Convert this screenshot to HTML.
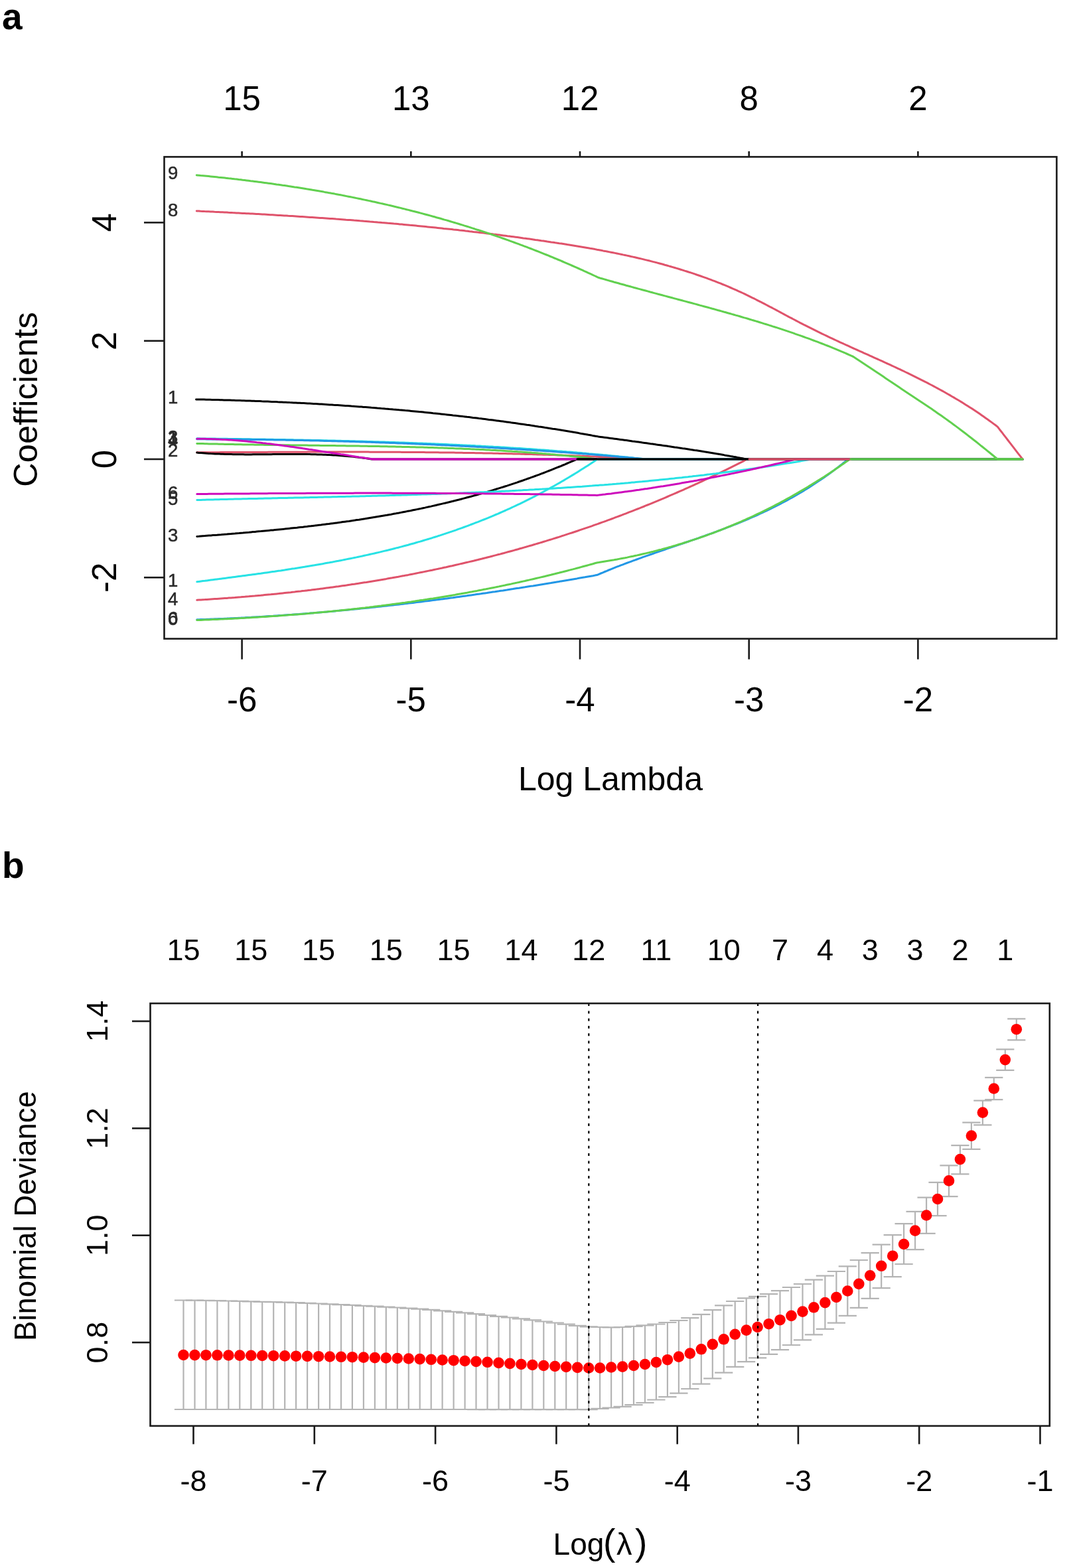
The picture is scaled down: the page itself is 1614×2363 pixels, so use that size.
<!DOCTYPE html><html><head><meta charset="utf-8"><title>LASSO regression plots</title>
<style>html,body{margin:0;padding:0;background:#fff;}svg{display:block;}text{font-family:"Liberation Sans", Arial, Helvetica, sans-serif;font-variant-ligatures:none;}</style></head><body>
<svg width="1614" height="2363" viewBox="0 0 1614 2363">
<rect x="0" y="0" width="1614" height="2363" fill="#fff"/>
<text x="3" y="44.3" font-size="55" font-weight="bold" fill="#000">a</text>
<defs><clipPath id="clipA"><rect x="247.5" y="236.4" width="1344.9" height="726.2"/></clipPath>
<clipPath id="clipB"><rect x="226.5" y="1512.1" width="1355.3" height="636.8"/></clipPath></defs>
<g clip-path="url(#clipA)" fill="none" stroke-width="3.0" stroke-linejoin="round" stroke-linecap="round">
<path d="M296.8 681.8 L299.8 681.8 L302.8 681.8 L305.8 681.8 L308.8 681.8 L311.8 681.7 L314.8 681.7 L317.8 681.7 L320.8 681.7 L323.8 681.7 L326.8 681.7 L329.8 681.7 L332.8 681.6 L335.8 681.6 L338.8 681.6 L341.8 681.6 L344.8 681.6 L347.8 681.6 L350.8 681.6 L353.8 681.6 L356.8 681.5 L359.8 681.5 L362.8 681.5 L365.8 681.5 L368.8 681.5 L371.8 681.5 L374.8 681.5 L377.8 681.4 L380.8 681.4 L383.8 681.4 L386.8 681.4 L389.8 681.4 L392.8 681.4 L395.8 681.4 L398.8 681.4 L401.8 681.4 L404.8 681.3 L407.8 681.3 L410.8 681.3 L413.8 681.3 L416.8 681.3 L419.8 681.3 L422.8 681.3 L425.8 681.3 L428.8 681.3 L431.8 681.2 L434.8 681.2 L437.8 681.2 L440.8 681.2 L443.8 681.2 L446.8 681.2 L449.8 681.2 L452.8 681.2 L455.8 681.2 L458.8 681.2 L461.8 681.2 L464.8 681.1 L467.9 681.1 L470.9 681.1 L473.9 681.1 L476.9 681.1 L479.9 681.1 L482.9 681.1 L485.9 681.1 L488.9 681.1 L491.9 681.1 L494.9 681.1 L497.9 681.1 L500.9 681.1 L503.9 681.1 L506.9 681.1 L509.9 681.1 L512.9 681.1 L515.9 681.1 L518.9 681.1 L521.9 681.1 L524.9 681.1 L527.9 681.1 L530.9 681.1 L533.9 681.1 L536.9 681.1 L539.9 681.1 L542.9 681.1 L545.9 681.1 L548.9 681.1 L551.9 681.1 L554.9 681.1 L557.9 681.2 L560.9 681.2 L563.9 681.2 L566.9 681.2 L569.9 681.2 L572.9 681.2 L575.9 681.2 L578.9 681.2 L581.9 681.2 L584.9 681.2 L587.9 681.3 L590.9 681.3 L593.9 681.3 L596.9 681.3 L599.9 681.3 L602.9 681.3 L605.9 681.4 L608.9 681.4 L611.9 681.4 L614.9 681.4 L617.9 681.4 L620.9 681.5 L623.9 681.5 L626.9 681.5 L629.9 681.5 L632.9 681.6 L635.9 681.6 L638.9 681.6 L641.9 681.7 L644.9 681.7 L647.9 681.7 L650.9 681.7 L653.9 681.8 L656.9 681.8 L659.9 681.8 L662.9 681.9 L665.9 681.9 L668.9 681.9 L671.9 682.0 L674.9 682.0 L677.9 682.1 L680.9 682.1 L683.9 682.1 L686.9 682.2 L689.9 682.2 L692.9 682.3 L695.9 682.3 L698.9 682.4 L701.9 682.4 L704.9 682.5 L707.9 682.5 L710.9 682.6 L713.9 682.6 L716.9 682.7 L719.9 682.7 L722.9 682.8 L725.9 682.8 L728.9 682.9 L731.9 682.9 L734.9 683.0 L737.9 683.1 L740.9 683.1 L743.9 683.2 L746.9 683.3 L749.9 683.3 L752.9 683.4 L755.9 683.5 L758.9 683.5 L761.9 683.6 L764.9 683.7 L767.9 683.7 L770.9 683.8 L773.9 683.9 L776.9 684.0 L779.9 684.0 L782.9 684.1 L785.9 684.2 L788.9 684.3 L791.9 684.4 L794.9 684.4 L797.9 684.5 L800.9 684.6 L804.0 684.7 L807.0 684.8 L810.0 684.9 L813.0 685.0 L816.0 685.1 L819.0 685.2 L822.0 685.2 L825.0 685.3 L828.0 685.4 L831.0 685.5 L834.0 685.6 L837.0 685.7 L840.0 685.9 L843.0 686.0 L846.0 686.1 L849.0 686.2 L852.0 686.3 L855.0 686.4 L858.0 686.5 L861.0 686.6 L864.0 686.7 L867.0 686.9 L870.0 687.0 L873.0 687.1 L876.0 687.2 L879.0 687.3 L882.0 687.5 L885.0 687.6 L888.0 687.7 L891.0 687.9 L894.0 688.0 L897.0 688.1 L900.0 688.3 L903.0 688.4 L906.0 688.5 L909.0 688.7 L912.0 688.8 L915.0 688.9 L918.0 689.1 L921.0 689.2 L924.0 689.4 L927.0 689.5 L930.0 689.7 L933.0 689.8 L936.0 690.0 L939.0 690.2 L942.0 690.3 L945.0 690.5 L948.0 690.6 L951.0 690.8 L954.0 691.0 L957.0 691.1 L960.0 691.3 L963.0 691.5 L966.0 691.6 L969.0 691.8 L972.0 692.0 L975.0 692.0 L978.0 692.0 L981.0 692.0 L984.0 692.0 L987.1 692.0 L990.1 692.0 L993.1 692.0 L996.1 692.0 L999.1 692.0 L1002.1 692.0 L1005.1 692.0 L1008.1 692.0 L1011.1 692.0 L1014.1 692.0 L1017.2 692.0 L1020.2 692.0 L1023.2 692.0 L1026.2 692.0 L1029.2 692.0 L1032.2 692.0 L1035.2 692.0 L1038.2 692.0 L1041.2 692.0 L1044.3 692.0 L1047.3 692.0 L1050.3 692.0 L1053.3 692.0 L1056.3 692.0 L1059.3 692.0 L1062.3 692.0 L1065.3 692.0 L1068.3 692.0 L1071.3 692.0 L1074.4 692.0 L1077.4 692.0 L1080.4 692.0 L1083.4 692.0 L1086.4 692.0 L1089.4 692.0 L1092.4 692.0 L1095.4 692.0 L1098.4 692.0 L1101.5 692.0 L1104.5 692.0 L1107.5 692.0 L1110.5 692.0 L1113.5 692.0 L1116.5 692.0 L1119.5 692.0 L1122.5 692.0 L1125.5 692.0 L1128.6 692.0 L1131.6 692.0 L1134.6 692.0 L1137.6 692.0 L1140.6 692.0 L1143.6 692.0 L1146.6 692.0 L1149.6 692.0 L1152.6 692.0 L1155.6 692.0 L1158.7 692.0 L1161.7 692.0 L1164.7 692.0 L1167.7 692.0 L1170.7 692.0 L1173.7 692.0 L1176.7 692.0 L1179.7 692.0 L1182.7 692.0 L1185.8 692.0 L1188.8 692.0 L1191.8 692.0 L1194.8 692.0 L1197.8 692.0 L1200.8 692.0 L1203.8 692.0 L1206.8 692.0 L1209.8 692.0 L1212.8 692.0 L1215.9 692.0 L1218.9 692.0 L1221.9 692.0 L1224.9 692.0 L1227.9 692.0 L1230.9 692.0 L1233.9 692.0 L1236.9 692.0 L1239.9 692.0 L1243.0 692.0 L1246.0 692.0 L1249.0 692.0 L1252.0 692.0 L1255.0 692.0 L1258.0 692.0 L1261.0 692.0 L1264.0 692.0 L1267.0 692.0 L1270.0 692.0 L1273.1 692.0 L1276.1 692.0 L1279.1 692.0 L1282.1 692.0 L1285.1 692.0 L1288.1 692.0 L1291.1 692.0 L1294.1 692.0 L1297.1 692.0 L1300.2 692.0 L1303.2 692.0 L1306.2 692.0 L1309.2 692.0 L1312.2 692.0 L1315.2 692.0 L1318.2 692.0 L1321.2 692.0 L1324.2 692.0 L1327.2 692.0 L1330.3 692.0 L1333.3 692.0 L1336.3 692.0 L1339.3 692.0 L1342.3 692.0 L1345.3 692.0 L1348.3 692.0 L1351.3 692.0 L1354.3 692.0 L1357.4 692.0 L1360.4 692.0 L1363.4 692.0 L1366.4 692.0 L1369.4 692.0 L1372.4 692.0 L1375.4 692.0 L1378.4 692.0 L1381.4 692.0 L1384.4 692.0 L1387.5 692.0 L1390.5 692.0 L1393.5 692.0 L1396.5 692.0 L1399.5 692.0 L1402.5 692.0 L1405.5 692.0 L1408.5 692.0 L1411.5 692.0 L1414.6 692.0 L1417.6 692.0 L1420.6 692.0 L1423.6 692.0 L1426.6 692.0 L1429.6 692.0 L1432.6 692.0 L1435.6 692.0 L1438.6 692.0 L1441.7 692.0 L1444.7 692.0 L1447.7 692.0 L1450.7 692.0 L1453.7 692.0 L1456.7 692.0 L1459.7 692.0 L1462.7 692.0 L1465.7 692.0 L1468.7 692.0 L1471.8 692.0 L1474.8 692.0 L1477.8 692.0 L1480.8 692.0 L1483.8 692.0 L1486.8 692.0 L1489.8 692.0 L1492.8 692.0 L1495.8 692.0 L1498.9 692.0 L1501.9 692.0 L1504.9 692.0 L1507.9 692.0 L1510.9 692.0 L1513.9 692.0 L1516.9 692.0 L1519.9 692.0 L1522.9 692.0 L1525.9 692.0 L1529.0 692.0 L1532.0 692.0 L1535.0 692.0 L1538.0 692.0 L1541.0 692.0" stroke="#DF536B"/>
<path d="M296.8 660.8 L299.8 660.8 L302.8 660.9 L305.8 660.9 L308.8 660.9 L311.8 661.0 L314.8 661.0 L317.8 661.0 L320.8 661.1 L323.8 661.1 L326.8 661.2 L329.8 661.2 L332.8 661.2 L335.8 661.3 L338.8 661.3 L341.8 661.3 L344.8 661.4 L347.8 661.4 L350.8 661.5 L353.8 661.5 L356.8 661.5 L359.8 661.6 L362.8 661.6 L365.8 661.7 L368.8 661.7 L371.8 661.7 L374.8 661.8 L377.8 661.8 L380.8 661.9 L383.8 661.9 L386.8 662.0 L389.8 662.0 L392.8 662.0 L395.8 662.1 L398.8 662.1 L401.8 662.2 L404.8 662.2 L407.8 662.3 L410.8 662.3 L413.8 662.4 L416.8 662.4 L419.8 662.5 L422.8 662.5 L425.8 662.6 L428.8 662.6 L431.8 662.7 L434.8 662.7 L437.8 662.8 L440.8 662.8 L443.8 662.9 L446.8 662.9 L449.8 663.0 L452.8 663.0 L455.8 663.1 L458.8 663.2 L461.8 663.2 L464.8 663.3 L467.9 663.3 L470.9 663.4 L473.9 663.4 L476.9 663.5 L479.9 663.6 L482.9 663.6 L485.9 663.7 L488.9 663.8 L491.9 663.8 L494.9 663.9 L497.9 664.0 L500.9 664.0 L503.9 664.1 L506.9 664.2 L509.9 664.2 L512.9 664.3 L515.9 664.4 L518.9 664.5 L521.9 664.5 L524.9 664.6 L527.9 664.7 L530.9 664.8 L533.9 664.8 L536.9 664.9 L539.9 665.0 L542.9 665.1 L545.9 665.1 L548.9 665.2 L551.9 665.3 L554.9 665.4 L557.9 665.5 L560.9 665.6 L563.9 665.7 L566.9 665.7 L569.9 665.8 L572.9 665.9 L575.9 666.0 L578.9 666.1 L581.9 666.2 L584.9 666.3 L587.9 666.4 L590.9 666.5 L593.9 666.6 L596.9 666.7 L599.9 666.8 L602.9 666.9 L605.9 667.0 L608.9 667.1 L611.9 667.2 L614.9 667.3 L617.9 667.4 L620.9 667.5 L623.9 667.7 L626.9 667.8 L629.9 667.9 L632.9 668.0 L635.9 668.1 L638.9 668.2 L641.9 668.3 L644.9 668.5 L647.9 668.6 L650.9 668.7 L653.9 668.8 L656.9 669.0 L659.9 669.1 L662.9 669.2 L665.9 669.3 L668.9 669.5 L671.9 669.6 L674.9 669.7 L677.9 669.9 L680.9 670.0 L683.9 670.2 L686.9 670.3 L689.9 670.4 L692.9 670.6 L695.9 670.7 L698.9 670.9 L701.9 671.0 L704.9 671.2 L707.9 671.3 L710.9 671.5 L713.9 671.6 L716.9 671.8 L719.9 671.9 L722.9 672.1 L725.9 672.3 L728.9 672.4 L731.9 672.6 L734.9 672.7 L737.9 672.9 L740.9 673.1 L743.9 673.3 L746.9 673.4 L749.9 673.6 L752.9 673.8 L755.9 674.0 L758.9 674.1 L761.9 674.3 L764.9 674.5 L767.9 674.7 L770.9 674.9 L773.9 675.1 L776.9 675.2 L779.9 675.4 L782.9 675.6 L785.9 675.8 L788.9 676.0 L791.9 676.2 L794.9 676.4 L797.9 676.6 L800.9 676.8 L804.0 677.0 L807.0 677.2 L810.0 677.5 L813.0 677.7 L816.0 677.9 L819.0 678.1 L822.0 678.3 L825.0 678.5 L828.0 678.8 L831.0 679.0 L834.0 679.2 L837.0 679.4 L840.0 679.7 L843.0 679.9 L846.0 680.1 L849.0 680.4 L852.0 680.6 L855.0 680.9 L858.0 681.1 L861.0 681.3 L864.0 681.6 L867.0 681.8 L870.0 682.1 L873.0 682.3 L876.0 682.6 L879.0 682.9 L882.0 683.1 L885.0 683.4 L888.0 683.7 L891.0 683.9 L894.0 684.2 L897.0 684.5 L900.0 684.7 L903.0 685.0 L906.0 685.3 L909.0 685.6 L912.0 685.8 L915.0 686.1 L918.0 686.4 L921.0 686.7 L924.0 687.0 L927.0 687.3 L930.0 687.6 L933.0 687.9 L936.0 688.2 L939.0 688.5 L942.0 688.8 L945.0 689.1 L948.0 689.4 L951.0 689.7 L954.0 690.1 L957.0 690.4 L960.0 690.7 L963.0 691.0 L966.0 691.3 L969.0 691.7 L972.0 692.0 L975.0 692.0 L978.0 692.0 L981.0 692.0 L984.0 692.0 L987.1 692.0 L990.1 692.0 L993.1 692.0 L996.1 692.0 L999.1 692.0 L1002.1 692.0 L1005.1 692.0 L1008.1 692.0 L1011.1 692.0 L1014.1 692.0 L1017.2 692.0 L1020.2 692.0 L1023.2 692.0 L1026.2 692.0 L1029.2 692.0 L1032.2 692.0 L1035.2 692.0 L1038.2 692.0 L1041.2 692.0 L1044.3 692.0 L1047.3 692.0 L1050.3 692.0 L1053.3 692.0 L1056.3 692.0 L1059.3 692.0 L1062.3 692.0 L1065.3 692.0 L1068.3 692.0 L1071.3 692.0 L1074.4 692.0 L1077.4 692.0 L1080.4 692.0 L1083.4 692.0 L1086.4 692.0 L1089.4 692.0 L1092.4 692.0 L1095.4 692.0 L1098.4 692.0 L1101.5 692.0 L1104.5 692.0 L1107.5 692.0 L1110.5 692.0 L1113.5 692.0 L1116.5 692.0 L1119.5 692.0 L1122.5 692.0 L1125.5 692.0 L1128.6 692.0 L1131.6 692.0 L1134.6 692.0 L1137.6 692.0 L1140.6 692.0 L1143.6 692.0 L1146.6 692.0 L1149.6 692.0 L1152.6 692.0 L1155.6 692.0 L1158.7 692.0 L1161.7 692.0 L1164.7 692.0 L1167.7 692.0 L1170.7 692.0 L1173.7 692.0 L1176.7 692.0 L1179.7 692.0 L1182.7 692.0 L1185.8 692.0 L1188.8 692.0 L1191.8 692.0 L1194.8 692.0 L1197.8 692.0 L1200.8 692.0 L1203.8 692.0 L1206.8 692.0 L1209.8 692.0 L1212.8 692.0 L1215.9 692.0 L1218.9 692.0 L1221.9 692.0 L1224.9 692.0 L1227.9 692.0 L1230.9 692.0 L1233.9 692.0 L1236.9 692.0 L1239.9 692.0 L1243.0 692.0 L1246.0 692.0 L1249.0 692.0 L1252.0 692.0 L1255.0 692.0 L1258.0 692.0 L1261.0 692.0 L1264.0 692.0 L1267.0 692.0 L1270.0 692.0 L1273.1 692.0 L1276.1 692.0 L1279.1 692.0 L1282.1 692.0 L1285.1 692.0 L1288.1 692.0 L1291.1 692.0 L1294.1 692.0 L1297.1 692.0 L1300.2 692.0 L1303.2 692.0 L1306.2 692.0 L1309.2 692.0 L1312.2 692.0 L1315.2 692.0 L1318.2 692.0 L1321.2 692.0 L1324.2 692.0 L1327.2 692.0 L1330.3 692.0 L1333.3 692.0 L1336.3 692.0 L1339.3 692.0 L1342.3 692.0 L1345.3 692.0 L1348.3 692.0 L1351.3 692.0 L1354.3 692.0 L1357.4 692.0 L1360.4 692.0 L1363.4 692.0 L1366.4 692.0 L1369.4 692.0 L1372.4 692.0 L1375.4 692.0 L1378.4 692.0 L1381.4 692.0 L1384.4 692.0 L1387.5 692.0 L1390.5 692.0 L1393.5 692.0 L1396.5 692.0 L1399.5 692.0 L1402.5 692.0 L1405.5 692.0 L1408.5 692.0 L1411.5 692.0 L1414.6 692.0 L1417.6 692.0 L1420.6 692.0 L1423.6 692.0 L1426.6 692.0 L1429.6 692.0 L1432.6 692.0 L1435.6 692.0 L1438.6 692.0 L1441.7 692.0 L1444.7 692.0 L1447.7 692.0 L1450.7 692.0 L1453.7 692.0 L1456.7 692.0 L1459.7 692.0 L1462.7 692.0 L1465.7 692.0 L1468.7 692.0 L1471.8 692.0 L1474.8 692.0 L1477.8 692.0 L1480.8 692.0 L1483.8 692.0 L1486.8 692.0 L1489.8 692.0 L1492.8 692.0 L1495.8 692.0 L1498.9 692.0 L1501.9 692.0 L1504.9 692.0 L1507.9 692.0 L1510.9 692.0 L1513.9 692.0 L1516.9 692.0 L1519.9 692.0 L1522.9 692.0 L1525.9 692.0 L1529.0 692.0 L1532.0 692.0 L1535.0 692.0 L1538.0 692.0 L1541.0 692.0" stroke="#28E2E5"/>
<path d="M296.8 661.8 L299.8 661.8 L302.8 661.8 L305.8 661.8 L308.8 661.8 L311.8 661.9 L314.8 661.9 L317.8 661.9 L320.8 661.9 L323.8 661.9 L326.8 661.9 L329.8 661.9 L332.8 662.0 L335.8 662.0 L338.8 662.0 L341.8 662.0 L344.8 662.0 L347.8 662.1 L350.8 662.1 L353.8 662.1 L356.8 662.1 L359.8 662.2 L362.8 662.2 L365.8 662.2 L368.8 662.3 L371.8 662.3 L374.8 662.3 L377.8 662.4 L380.8 662.4 L383.8 662.4 L386.8 662.5 L389.8 662.5 L392.8 662.6 L395.8 662.6 L398.8 662.6 L401.8 662.7 L404.8 662.7 L407.8 662.8 L410.8 662.8 L413.8 662.9 L416.8 662.9 L419.8 663.0 L422.8 663.0 L425.8 663.1 L428.8 663.1 L431.8 663.2 L434.8 663.2 L437.8 663.3 L440.8 663.3 L443.8 663.4 L446.8 663.4 L449.8 663.5 L452.8 663.6 L455.8 663.6 L458.8 663.7 L461.8 663.7 L464.8 663.8 L467.9 663.9 L470.9 663.9 L473.9 664.0 L476.9 664.1 L479.9 664.1 L482.9 664.2 L485.9 664.3 L488.9 664.4 L491.9 664.4 L494.9 664.5 L497.9 664.6 L500.9 664.7 L503.9 664.7 L506.9 664.8 L509.9 664.9 L512.9 665.0 L515.9 665.1 L518.9 665.2 L521.9 665.2 L524.9 665.3 L527.9 665.4 L530.9 665.5 L533.9 665.6 L536.9 665.7 L539.9 665.8 L542.9 665.9 L545.9 666.0 L548.9 666.1 L551.9 666.2 L554.9 666.2 L557.9 666.3 L560.9 666.4 L563.9 666.5 L566.9 666.7 L569.9 666.8 L572.9 666.9 L575.9 667.0 L578.9 667.1 L581.9 667.2 L584.9 667.3 L587.9 667.4 L590.9 667.5 L593.9 667.6 L596.9 667.7 L599.9 667.9 L602.9 668.0 L605.9 668.1 L608.9 668.2 L611.9 668.3 L614.9 668.4 L617.9 668.6 L620.9 668.7 L623.9 668.8 L626.9 668.9 L629.9 669.1 L632.9 669.2 L635.9 669.3 L638.9 669.5 L641.9 669.6 L644.9 669.7 L647.9 669.8 L650.9 670.0 L653.9 670.1 L656.9 670.3 L659.9 670.4 L662.9 670.5 L665.9 670.7 L668.9 670.8 L671.9 671.0 L674.9 671.1 L677.9 671.3 L680.9 671.4 L683.9 671.5 L686.9 671.7 L689.9 671.8 L692.9 672.0 L695.9 672.2 L698.9 672.3 L701.9 672.5 L704.9 672.6 L707.9 672.8 L710.9 672.9 L713.9 673.1 L716.9 673.3 L719.9 673.4 L722.9 673.6 L725.9 673.8 L728.9 673.9 L731.9 674.1 L734.9 674.3 L737.9 674.4 L740.9 674.6 L743.9 674.8 L746.9 674.9 L749.9 675.1 L752.9 675.3 L755.9 675.5 L758.9 675.7 L761.9 675.8 L764.9 676.0 L767.9 676.2 L770.9 676.4 L773.9 676.6 L776.9 676.8 L779.9 676.9 L782.9 677.1 L785.9 677.3 L788.9 677.5 L791.9 677.7 L794.9 677.9 L797.9 678.1 L800.9 678.3 L803.9 678.5 L807.0 678.7 L810.0 678.9 L813.0 679.1 L816.0 679.3 L819.0 679.5 L822.0 679.7 L825.0 679.9 L828.0 680.1 L831.0 680.3 L834.0 680.5 L837.0 680.8 L840.0 681.0 L843.0 681.2 L846.0 681.4 L849.0 681.6 L852.0 681.8 L855.0 682.1 L858.0 682.3 L861.0 682.5 L864.0 682.7 L867.0 683.0 L870.0 683.2 L873.0 683.4 L876.0 683.6 L879.0 683.9 L882.0 684.1 L885.0 684.3 L888.0 684.6 L891.0 684.8 L894.0 685.1 L897.0 685.3 L900.0 685.5 L903.0 685.8 L906.0 686.0 L909.0 686.3 L912.0 686.5 L915.0 686.8 L918.0 687.0 L921.0 687.3 L924.0 687.5 L927.0 687.8 L930.0 688.0 L933.0 688.3 L936.0 688.5 L939.0 688.8 L942.0 689.1 L945.0 689.3 L948.0 689.6 L951.0 689.8 L954.0 690.1 L957.0 690.4 L960.0 690.6 L963.0 690.9 L966.0 691.2 L969.0 691.5 L972.0 691.7 L975.0 692.0 L978.0 692.0 L981.0 692.0 L984.0 692.0 L987.0 692.0 L990.1 692.0 L993.1 692.0 L996.1 692.0 L999.1 692.0 L1002.1 692.0 L1005.1 692.0 L1008.1 692.0 L1011.1 692.0 L1014.1 692.0 L1017.1 692.0 L1020.2 692.0 L1023.2 692.0 L1026.2 692.0 L1029.2 692.0 L1032.2 692.0 L1035.2 692.0 L1038.2 692.0 L1041.2 692.0 L1044.2 692.0 L1047.3 692.0 L1050.3 692.0 L1053.3 692.0 L1056.3 692.0 L1059.3 692.0 L1062.3 692.0 L1065.3 692.0 L1068.3 692.0 L1071.3 692.0 L1074.4 692.0 L1077.4 692.0 L1080.4 692.0 L1083.4 692.0 L1086.4 692.0 L1089.4 692.0 L1092.4 692.0 L1095.4 692.0 L1098.4 692.0 L1101.4 692.0 L1104.5 692.0 L1107.5 692.0 L1110.5 692.0 L1113.5 692.0 L1116.5 692.0 L1119.5 692.0 L1122.5 692.0 L1125.5 692.0 L1128.5 692.0 L1131.6 692.0 L1134.6 692.0 L1137.6 692.0 L1140.6 692.0 L1143.6 692.0 L1146.6 692.0 L1149.6 692.0 L1152.6 692.0 L1155.6 692.0 L1158.6 692.0 L1161.7 692.0 L1164.7 692.0 L1167.7 692.0 L1170.7 692.0 L1173.7 692.0 L1176.7 692.0 L1179.7 692.0 L1182.7 692.0 L1185.7 692.0 L1188.8 692.0 L1191.8 692.0 L1194.8 692.0 L1197.8 692.0 L1200.8 692.0 L1203.8 692.0 L1206.8 692.0 L1209.8 692.0 L1212.8 692.0 L1215.9 692.0 L1218.9 692.0 L1221.9 692.0 L1224.9 692.0 L1227.9 692.0 L1230.9 692.0 L1233.9 692.0 L1236.9 692.0 L1239.9 692.0 L1242.9 692.0 L1246.0 692.0 L1249.0 692.0 L1252.0 692.0 L1255.0 692.0 L1258.0 692.0 L1261.0 692.0 L1264.0 692.0 L1267.0 692.0 L1270.0 692.0 L1273.1 692.0 L1276.1 692.0 L1279.1 692.0 L1282.1 692.0 L1285.1 692.0 L1288.1 692.0 L1291.1 692.0 L1294.1 692.0 L1297.1 692.0 L1300.1 692.0 L1303.2 692.0 L1306.2 692.0 L1309.2 692.0 L1312.2 692.0 L1315.2 692.0 L1318.2 692.0 L1321.2 692.0 L1324.2 692.0 L1327.2 692.0 L1330.3 692.0 L1333.3 692.0 L1336.3 692.0 L1339.3 692.0 L1342.3 692.0 L1345.3 692.0 L1348.3 692.0 L1351.3 692.0 L1354.3 692.0 L1357.4 692.0 L1360.4 692.0 L1363.4 692.0 L1366.4 692.0 L1369.4 692.0 L1372.4 692.0 L1375.4 692.0 L1378.4 692.0 L1381.4 692.0 L1384.4 692.0 L1387.5 692.0 L1390.5 692.0 L1393.5 692.0 L1396.5 692.0 L1399.5 692.0 L1402.5 692.0 L1405.5 692.0 L1408.5 692.0 L1411.5 692.0 L1414.6 692.0 L1417.6 692.0 L1420.6 692.0 L1423.6 692.0 L1426.6 692.0 L1429.6 692.0 L1432.6 692.0 L1435.6 692.0 L1438.6 692.0 L1441.6 692.0 L1444.7 692.0 L1447.7 692.0 L1450.7 692.0 L1453.7 692.0 L1456.7 692.0 L1459.7 692.0 L1462.7 692.0 L1465.7 692.0 L1468.7 692.0 L1471.8 692.0 L1474.8 692.0 L1477.8 692.0 L1480.8 692.0 L1483.8 692.0 L1486.8 692.0 L1489.8 692.0 L1492.8 692.0 L1495.8 692.0 L1498.9 692.0 L1501.9 692.0 L1504.9 692.0 L1507.9 692.0 L1510.9 692.0 L1513.9 692.0 L1516.9 692.0 L1519.9 692.0 L1522.9 692.0 L1525.9 692.0 L1529.0 692.0 L1532.0 692.0 L1535.0 692.0 L1538.0 692.0 L1541.0 692.0" stroke="#2297E6"/>
<path d="M296.8 668.4 L299.8 668.5 L302.8 668.6 L305.8 668.6 L308.8 668.7 L311.8 668.8 L314.9 668.9 L317.9 668.9 L320.9 669.0 L323.9 669.1 L326.9 669.1 L329.9 669.2 L332.9 669.3 L335.9 669.3 L338.9 669.4 L341.9 669.4 L345.0 669.5 L348.0 669.6 L351.0 669.6 L354.0 669.7 L357.0 669.7 L360.0 669.8 L363.0 669.8 L366.0 669.9 L369.0 669.9 L372.0 670.0 L375.1 670.0 L378.1 670.1 L381.1 670.1 L384.1 670.2 L387.1 670.2 L390.1 670.2 L393.1 670.3 L396.1 670.3 L399.1 670.4 L402.1 670.4 L405.2 670.4 L408.2 670.5 L411.2 670.5 L414.2 670.6 L417.2 670.6 L420.2 670.6 L423.2 670.7 L426.2 670.7 L429.2 670.8 L432.2 670.8 L435.3 670.8 L438.3 670.9 L441.3 670.9 L444.3 670.9 L447.3 671.0 L450.3 671.0 L453.3 671.0 L456.3 671.1 L459.3 671.1 L462.3 671.1 L465.4 671.2 L468.4 671.2 L471.4 671.2 L474.4 671.3 L477.4 671.3 L480.4 671.3 L483.4 671.4 L486.4 671.4 L489.4 671.5 L492.4 671.5 L495.5 671.5 L498.5 671.6 L501.5 671.6 L504.5 671.6 L507.5 671.7 L510.5 671.7 L513.5 671.8 L516.5 671.8 L519.5 671.8 L522.5 671.9 L525.6 671.9 L528.6 672.0 L531.6 672.0 L534.6 672.0 L537.6 672.1 L540.6 672.1 L543.6 672.2 L546.6 672.2 L549.6 672.3 L552.6 672.3 L555.7 672.4 L558.7 672.4 L561.7 672.5 L564.7 672.5 L567.7 672.6 L570.7 672.6 L573.7 672.7 L576.7 672.7 L579.7 672.8 L582.7 672.8 L585.8 672.9 L588.8 673.0 L591.8 673.0 L594.8 673.1 L597.8 673.2 L600.8 673.2 L603.8 673.3 L606.8 673.4 L609.8 673.4 L612.8 673.5 L615.9 673.6 L618.9 673.7 L621.9 673.7 L624.9 673.8 L627.9 673.9 L630.9 674.0 L633.9 674.1 L636.9 674.1 L639.9 674.2 L642.9 674.3 L646.0 674.4 L649.0 674.5 L652.0 674.6 L655.0 674.7 L658.0 674.8 L661.0 674.9 L664.0 675.0 L667.0 675.1 L670.0 675.2 L673.0 675.3 L676.1 675.4 L679.1 675.5 L682.1 675.6 L685.1 675.8 L688.1 675.9 L691.1 676.0 L694.1 676.1 L697.1 676.2 L700.1 676.4 L703.1 676.5 L706.2 676.6 L709.2 676.8 L712.2 676.9 L715.2 677.1 L718.2 677.2 L721.2 677.3 L724.2 677.5 L727.2 677.6 L730.2 677.8 L733.2 678.0 L736.3 678.1 L739.3 678.3 L742.3 678.4 L745.3 678.6 L748.3 678.8 L751.3 679.0 L754.3 679.1 L757.3 679.3 L760.3 679.5 L763.3 679.7 L766.4 679.9 L769.4 680.1 L772.4 680.3 L775.4 680.4 L778.4 680.6 L781.4 680.9 L784.4 681.1 L787.4 681.3 L790.4 681.5 L793.4 681.7 L796.5 681.9 L799.5 682.1 L802.5 682.4 L805.5 682.6 L808.5 682.8 L811.5 683.1 L814.5 683.3 L817.5 683.6 L820.5 683.8 L823.5 684.1 L826.6 684.3 L829.6 684.6 L832.6 684.8 L835.6 685.1 L838.6 685.4 L841.6 685.7 L844.6 685.9 L847.6 686.2 L850.6 686.5 L853.6 686.8 L856.7 687.1 L859.7 687.4 L862.7 687.7 L865.7 688.0 L868.7 688.3 L871.7 688.6 L874.7 688.9 L877.7 689.3 L880.7 689.6 L883.7 689.9 L886.8 690.3 L889.8 690.6 L892.8 690.9 L895.8 691.3 L898.8 691.6 L901.8 692.0 L904.8 692.0 L907.8 692.0 L910.8 692.0 L913.8 692.0 L916.8 692.0 L919.8 692.0 L922.8 692.0 L925.8 692.0 L928.8 692.0 L931.8 692.0 L934.8 692.0 L937.8 692.0 L940.8 692.0 L943.8 692.0 L946.8 692.0 L949.8 692.0 L952.8 692.0 L955.8 692.0 L958.8 692.0 L961.8 692.0 L964.8 692.0 L967.8 692.0 L970.8 692.0 L973.8 692.0 L976.8 692.0 L979.8 692.0 L982.8 692.0 L985.8 692.0 L988.8 692.0 L991.8 692.0 L994.8 692.0 L997.8 692.0 L1000.8 692.0 L1003.8 692.0 L1006.8 692.0 L1009.8 692.0 L1012.8 692.0 L1015.8 692.0 L1018.8 692.0 L1021.8 692.0 L1024.8 692.0 L1027.8 692.0 L1030.8 692.0 L1033.8 692.0 L1036.8 692.0 L1039.8 692.0 L1042.8 692.0 L1045.8 692.0 L1048.8 692.0 L1051.8 692.0 L1054.8 692.0 L1057.8 692.0 L1060.8 692.0 L1063.9 692.0 L1066.9 692.0 L1069.9 692.0 L1072.9 692.0 L1075.9 692.0 L1078.9 692.0 L1081.9 692.0 L1084.9 692.0 L1087.9 692.0 L1090.9 692.0 L1093.9 692.0 L1096.9 692.0 L1099.9 692.0 L1102.9 692.0 L1105.9 692.0 L1108.9 692.0 L1111.9 692.0 L1114.9 692.0 L1117.9 692.0 L1120.9 692.0 L1123.9 692.0 L1126.9 692.0 L1129.9 692.0 L1132.9 692.0 L1135.9 692.0 L1138.9 692.0 L1141.9 692.0 L1144.9 692.0 L1147.9 692.0 L1150.9 692.0 L1153.9 692.0 L1156.9 692.0 L1159.9 692.0 L1162.9 692.0 L1165.9 692.0 L1168.9 692.0 L1171.9 692.0 L1174.9 692.0 L1177.9 692.0 L1180.9 692.0 L1183.9 692.0 L1186.9 692.0 L1189.9 692.0 L1192.9 692.0 L1195.9 692.0 L1198.9 692.0 L1201.9 692.0 L1204.9 692.0 L1207.9 692.0 L1210.9 692.0 L1213.9 692.0 L1216.9 692.0 L1219.9 692.0 L1222.9 692.0 L1225.9 692.0 L1228.9 692.0 L1231.9 692.0 L1234.9 692.0 L1237.9 692.0 L1240.9 692.0 L1243.9 692.0 L1246.9 692.0 L1249.9 692.0 L1252.9 692.0 L1255.9 692.0 L1258.9 692.0 L1261.9 692.0 L1264.9 692.0 L1267.9 692.0 L1270.9 692.0 L1273.9 692.0 L1276.9 692.0 L1279.9 692.0 L1282.9 692.0 L1285.9 692.0 L1288.9 692.0 L1291.9 692.0 L1294.9 692.0 L1297.9 692.0 L1300.9 692.0 L1303.9 692.0 L1306.9 692.0 L1309.9 692.0 L1312.9 692.0 L1315.9 692.0 L1318.9 692.0 L1321.9 692.0 L1324.9 692.0 L1327.9 692.0 L1330.9 692.0 L1333.9 692.0 L1336.9 692.0 L1339.9 692.0 L1342.9 692.0 L1345.9 692.0 L1348.9 692.0 L1351.9 692.0 L1354.9 692.0 L1357.9 692.0 L1360.9 692.0 L1363.9 692.0 L1366.9 692.0 L1369.9 692.0 L1372.9 692.0 L1375.9 692.0 L1378.9 692.0 L1382.0 692.0 L1385.0 692.0 L1388.0 692.0 L1391.0 692.0 L1394.0 692.0 L1397.0 692.0 L1400.0 692.0 L1403.0 692.0 L1406.0 692.0 L1409.0 692.0 L1412.0 692.0 L1415.0 692.0 L1418.0 692.0 L1421.0 692.0 L1424.0 692.0 L1427.0 692.0 L1430.0 692.0 L1433.0 692.0 L1436.0 692.0 L1439.0 692.0 L1442.0 692.0 L1445.0 692.0 L1448.0 692.0 L1451.0 692.0 L1454.0 692.0 L1457.0 692.0 L1460.0 692.0 L1463.0 692.0 L1466.0 692.0 L1469.0 692.0 L1472.0 692.0 L1475.0 692.0 L1478.0 692.0 L1481.0 692.0 L1484.0 692.0 L1487.0 692.0 L1490.0 692.0 L1493.0 692.0 L1496.0 692.0 L1499.0 692.0 L1502.0 692.0 L1505.0 692.0 L1508.0 692.0 L1511.0 692.0 L1514.0 692.0 L1517.0 692.0 L1520.0 692.0 L1523.0 692.0 L1526.0 692.0 L1529.0 692.0 L1532.0 692.0 L1535.0 692.0 L1538.0 692.0 L1541.0 692.0" stroke="#61D04F"/>
<path d="M296.8 682.1 L299.8 682.4 L302.9 682.6 L305.9 682.8 L308.9 683.0 L311.9 683.2 L315.0 683.4 L318.0 683.6 L321.0 683.7 L324.0 683.9 L327.1 684.0 L330.1 684.1 L333.1 684.2 L336.1 684.3 L339.2 684.4 L342.2 684.5 L345.2 684.6 L348.2 684.6 L351.3 684.7 L354.3 684.7 L357.3 684.8 L360.3 684.8 L363.4 684.8 L366.4 684.8 L369.4 684.9 L372.4 684.9 L375.5 684.9 L378.5 684.9 L381.5 684.8 L384.5 684.8 L387.6 684.8 L390.6 684.8 L393.6 684.8 L396.6 684.8 L399.7 684.7 L402.7 684.7 L405.7 684.7 L408.7 684.7 L411.8 684.6 L414.8 684.6 L417.8 684.6 L420.8 684.6 L423.9 684.5 L426.9 684.5 L429.9 684.5 L432.9 684.5 L436.0 684.5 L439.0 684.4 L442.0 684.4 L445.0 684.4 L448.1 684.5 L451.1 684.5 L454.1 684.5 L457.1 684.5 L460.2 684.5 L463.2 684.6 L466.2 684.6 L469.2 684.7 L472.3 684.7 L475.3 684.8 L478.3 684.9 L481.3 685.0 L484.4 685.1 L487.4 685.2 L490.4 685.3 L493.4 685.4 L496.5 685.6 L499.5 685.7 L502.5 685.9 L505.5 686.1 L508.6 686.2 L511.6 686.5 L514.6 686.7 L517.6 686.9 L520.7 687.2 L523.7 687.4 L526.7 687.7 L529.7 688.0 L532.8 688.3 L535.8 688.7 L538.8 689.0 L541.8 689.4 L544.9 689.8 L547.9 690.2 L550.9 690.6 L553.9 691.0 L557.0 691.5 L560.0 692.0 L563.0 692.0 L566.0 692.0 L569.0 692.0 L572.0 692.0 L575.0 692.0 L578.0 692.0 L581.0 692.0 L584.0 692.0 L587.0 692.0 L590.0 692.0 L593.0 692.0 L596.0 692.0 L599.0 692.0 L602.0 692.0 L605.0 692.0 L608.0 692.0 L611.0 692.0 L614.0 692.0 L617.0 692.0 L620.0 692.0 L623.0 692.0 L626.0 692.0 L629.0 692.0 L632.0 692.0 L635.0 692.0 L638.0 692.0 L641.0 692.0 L644.0 692.0 L647.0 692.0 L650.0 692.0 L653.0 692.0 L656.0 692.0 L659.0 692.0 L662.0 692.0 L665.0 692.0 L668.0 692.0 L671.0 692.0 L674.0 692.0 L677.0 692.0 L680.0 692.0 L683.0 692.0 L686.0 692.0 L689.0 692.0 L692.0 692.0 L695.0 692.0 L698.0 692.0 L701.0 692.0 L704.0 692.0 L707.0 692.0 L710.0 692.0 L713.0 692.0 L716.0 692.0 L719.0 692.0 L722.0 692.0 L725.0 692.0 L728.0 692.0 L731.0 692.0 L734.0 692.0 L737.0 692.0 L740.0 692.0 L743.0 692.0 L746.0 692.0 L749.0 692.0 L752.0 692.0 L755.0 692.0 L758.0 692.0 L761.0 692.0 L764.0 692.0 L767.0 692.0 L770.0 692.0 L773.0 692.0 L776.0 692.0 L779.0 692.0 L782.0 692.0 L785.0 692.0 L788.0 692.0 L791.0 692.0 L794.0 692.0 L797.0 692.0 L800.0 692.0 L803.0 692.0 L806.0 692.0 L809.0 692.0 L812.0 692.0 L815.0 692.0 L818.0 692.0 L821.0 692.0 L824.0 692.0 L827.0 692.0 L830.0 692.0 L833.0 692.0 L836.0 692.0 L839.0 692.0 L842.0 692.0 L845.0 692.0 L848.0 692.0 L851.0 692.0 L854.0 692.0 L857.0 692.0 L860.0 692.0 L863.0 692.0 L866.0 692.0 L869.0 692.0 L872.0 692.0 L875.0 692.0 L878.0 692.0 L881.0 692.0 L884.0 692.0 L887.0 692.0 L890.0 692.0 L893.0 692.0 L896.0 692.0 L899.0 692.0 L902.0 692.0 L905.0 692.0 L908.0 692.0 L911.0 692.0 L914.0 692.0 L917.0 692.0 L920.0 692.0 L923.0 692.0 L926.0 692.0 L929.0 692.0 L932.0 692.0 L935.0 692.0 L938.0 692.0 L941.0 692.0 L944.0 692.0 L947.0 692.0 L950.0 692.0 L953.0 692.0 L956.0 692.0 L959.0 692.0 L962.0 692.0 L965.0 692.0 L968.0 692.0 L971.0 692.0 L974.0 692.0 L977.0 692.0 L980.0 692.0 L983.0 692.0 L986.0 692.0 L989.0 692.0 L992.0 692.0 L995.0 692.0 L998.0 692.0 L1001.0 692.0 L1004.0 692.0 L1007.0 692.0 L1010.0 692.0 L1013.0 692.0 L1016.0 692.0 L1019.0 692.0 L1022.0 692.0 L1025.0 692.0 L1028.0 692.0 L1031.0 692.0 L1034.0 692.0 L1037.0 692.0 L1040.0 692.0 L1043.0 692.0 L1046.0 692.0 L1049.0 692.0 L1052.0 692.0 L1055.0 692.0 L1058.0 692.0 L1061.0 692.0 L1064.0 692.0 L1067.0 692.0 L1070.0 692.0 L1073.0 692.0 L1076.0 692.0 L1079.0 692.0 L1082.0 692.0 L1085.0 692.0 L1088.0 692.0 L1091.0 692.0 L1094.0 692.0 L1097.0 692.0 L1100.0 692.0 L1103.0 692.0 L1106.0 692.0 L1109.0 692.0 L1112.0 692.0 L1115.0 692.0 L1118.0 692.0 L1121.0 692.0 L1124.0 692.0 L1127.0 692.0 L1130.0 692.0 L1133.0 692.0 L1136.0 692.0 L1139.0 692.0 L1142.0 692.0 L1145.0 692.0 L1148.0 692.0 L1151.0 692.0 L1154.0 692.0 L1157.0 692.0 L1160.0 692.0 L1163.0 692.0 L1166.0 692.0 L1169.0 692.0 L1172.0 692.0 L1175.0 692.0 L1178.0 692.0 L1181.0 692.0 L1184.0 692.0 L1187.0 692.0 L1190.0 692.0 L1193.0 692.0 L1196.0 692.0 L1199.0 692.0 L1202.0 692.0 L1205.0 692.0 L1208.0 692.0 L1211.0 692.0 L1214.0 692.0 L1217.0 692.0 L1220.0 692.0 L1223.0 692.0 L1226.0 692.0 L1229.0 692.0 L1232.0 692.0 L1235.0 692.0 L1238.0 692.0 L1241.0 692.0 L1244.0 692.0 L1247.0 692.0 L1250.0 692.0 L1253.0 692.0 L1256.0 692.0 L1259.0 692.0 L1262.0 692.0 L1265.0 692.0 L1268.0 692.0 L1271.0 692.0 L1274.0 692.0 L1277.0 692.0 L1280.0 692.0 L1283.0 692.0 L1286.0 692.0 L1289.0 692.0 L1292.0 692.0 L1295.0 692.0 L1298.0 692.0 L1301.0 692.0 L1304.0 692.0 L1307.0 692.0 L1310.0 692.0 L1313.0 692.0 L1316.0 692.0 L1319.0 692.0 L1322.0 692.0 L1325.0 692.0 L1328.0 692.0 L1331.0 692.0 L1334.0 692.0 L1337.0 692.0 L1340.0 692.0 L1343.0 692.0 L1346.0 692.0 L1349.0 692.0 L1352.0 692.0 L1355.0 692.0 L1358.0 692.0 L1361.0 692.0 L1364.0 692.0 L1367.0 692.0 L1370.0 692.0 L1373.0 692.0 L1376.0 692.0 L1379.0 692.0 L1382.0 692.0 L1385.0 692.0 L1388.0 692.0 L1391.0 692.0 L1394.0 692.0 L1397.0 692.0 L1400.0 692.0 L1403.0 692.0 L1406.0 692.0 L1409.0 692.0 L1412.0 692.0 L1415.0 692.0 L1418.0 692.0 L1421.0 692.0 L1424.0 692.0 L1427.0 692.0 L1430.0 692.0 L1433.0 692.0 L1436.0 692.0 L1439.0 692.0 L1442.0 692.0 L1445.0 692.0 L1448.0 692.0 L1451.0 692.0 L1454.0 692.0 L1457.0 692.0 L1460.0 692.0 L1463.0 692.0 L1466.0 692.0 L1469.0 692.0 L1472.0 692.0 L1475.0 692.0 L1478.0 692.0 L1481.0 692.0 L1484.0 692.0 L1487.0 692.0 L1490.0 692.0 L1493.0 692.0 L1496.0 692.0 L1499.0 692.0 L1502.0 692.0 L1505.0 692.0 L1508.0 692.0 L1511.0 692.0 L1514.0 692.0 L1517.0 692.0 L1520.0 692.0 L1523.0 692.0 L1526.0 692.0 L1529.0 692.0 L1532.0 692.0 L1535.0 692.0 L1538.0 692.0 L1541.0 692.0" stroke="#000000"/>
<path d="M296.8 661.2 L299.8 661.2 L302.8 661.2 L305.8 661.3 L308.9 661.3 L311.9 661.4 L314.9 661.5 L317.9 661.6 L320.9 661.7 L323.9 661.8 L326.9 661.9 L329.9 662.1 L333.0 662.2 L336.0 662.4 L339.0 662.5 L342.0 662.7 L345.0 662.9 L348.0 663.1 L351.0 663.3 L354.1 663.6 L357.1 663.8 L360.1 664.0 L363.1 664.3 L366.1 664.6 L369.1 664.8 L372.1 665.1 L375.2 665.4 L378.2 665.7 L381.2 666.0 L384.2 666.3 L387.2 666.7 L390.2 667.0 L393.2 667.3 L396.2 667.7 L399.3 668.0 L402.3 668.4 L405.3 668.7 L408.3 669.1 L411.3 669.5 L414.3 669.9 L417.3 670.3 L420.4 670.7 L423.4 671.1 L426.4 671.5 L429.4 671.9 L432.4 672.3 L435.4 672.7 L438.4 673.2 L441.5 673.6 L444.5 674.0 L447.5 674.5 L450.5 674.9 L453.5 675.3 L456.5 675.8 L459.5 676.2 L462.6 676.7 L465.6 677.2 L468.6 677.6 L471.6 678.1 L474.6 678.5 L477.6 679.0 L480.6 679.5 L483.6 679.9 L486.7 680.4 L489.7 680.9 L492.7 681.4 L495.7 681.8 L498.7 682.3 L501.7 682.8 L504.7 683.3 L507.8 683.7 L510.8 684.2 L513.8 684.7 L516.8 685.1 L519.8 685.6 L522.8 686.1 L525.8 686.6 L528.9 687.0 L531.9 687.5 L534.9 687.9 L537.9 688.4 L540.9 688.9 L543.9 689.3 L546.9 689.8 L549.9 690.2 L553.0 690.7 L556.0 691.1 L559.0 691.6 L562.0 692.0 L565.0 692.0 L568.0 692.0 L571.0 692.0 L574.0 692.0 L577.0 692.0 L580.0 692.0 L583.0 692.0 L586.0 692.0 L589.0 692.0 L592.0 692.0 L595.0 692.0 L598.0 692.0 L601.0 692.0 L604.0 692.0 L607.0 692.0 L610.0 692.0 L613.1 692.0 L616.1 692.0 L619.1 692.0 L622.1 692.0 L625.1 692.0 L628.1 692.0 L631.1 692.0 L634.1 692.0 L637.1 692.0 L640.1 692.0 L643.1 692.0 L646.1 692.0 L649.1 692.0 L652.1 692.0 L655.1 692.0 L658.1 692.0 L661.1 692.0 L664.1 692.0 L667.1 692.0 L670.1 692.0 L673.1 692.0 L676.1 692.0 L679.1 692.0 L682.1 692.0 L685.1 692.0 L688.1 692.0 L691.1 692.0 L694.1 692.0 L697.1 692.0 L700.1 692.0 L703.1 692.0 L706.1 692.0 L709.2 692.0 L712.2 692.0 L715.2 692.0 L718.2 692.0 L721.2 692.0 L724.2 692.0 L727.2 692.0 L730.2 692.0 L733.2 692.0 L736.2 692.0 L739.2 692.0 L742.2 692.0 L745.2 692.0 L748.2 692.0 L751.2 692.0 L754.2 692.0 L757.2 692.0 L760.2 692.0 L763.2 692.0 L766.2 692.0 L769.2 692.0 L772.2 692.0 L775.2 692.0 L778.2 692.0 L781.2 692.0 L784.2 692.0 L787.2 692.0 L790.2 692.0 L793.2 692.0 L796.2 692.0 L799.2 692.0 L802.2 692.0 L805.2 692.0 L808.3 692.0 L811.3 692.0 L814.3 692.0 L817.3 692.0 L820.3 692.0 L823.3 692.0 L826.3 692.0 L829.3 692.0 L832.3 692.0 L835.3 692.0 L838.3 692.0 L841.3 692.0 L844.3 692.0 L847.3 692.0 L850.3 692.0 L853.3 692.0 L856.3 692.0 L859.3 692.0 L862.3 692.0 L865.3 692.0 L868.3 692.0 L871.3 692.0 L874.3 692.0 L877.3 692.0 L880.3 692.0 L883.3 692.0 L886.3 692.0 L889.3 692.0 L892.3 692.0 L895.3 692.0 L898.3 692.0 L901.3 692.0 L904.3 692.0 L907.4 692.0 L910.4 692.0 L913.4 692.0 L916.4 692.0 L919.4 692.0 L922.4 692.0 L925.4 692.0 L928.4 692.0 L931.4 692.0 L934.4 692.0 L937.4 692.0 L940.4 692.0 L943.4 692.0 L946.4 692.0 L949.4 692.0 L952.4 692.0 L955.4 692.0 L958.4 692.0 L961.4 692.0 L964.4 692.0 L967.4 692.0 L970.4 692.0 L973.4 692.0 L976.4 692.0 L979.4 692.0 L982.4 692.0 L985.4 692.0 L988.4 692.0 L991.4 692.0 L994.4 692.0 L997.4 692.0 L1000.4 692.0 L1003.5 692.0 L1006.5 692.0 L1009.5 692.0 L1012.5 692.0 L1015.5 692.0 L1018.5 692.0 L1021.5 692.0 L1024.5 692.0 L1027.5 692.0 L1030.5 692.0 L1033.5 692.0 L1036.5 692.0 L1039.5 692.0 L1042.5 692.0 L1045.5 692.0 L1048.5 692.0 L1051.5 692.0 L1054.5 692.0 L1057.5 692.0 L1060.5 692.0 L1063.5 692.0 L1066.5 692.0 L1069.5 692.0 L1072.5 692.0 L1075.5 692.0 L1078.5 692.0 L1081.5 692.0 L1084.5 692.0 L1087.5 692.0 L1090.5 692.0 L1093.5 692.0 L1096.5 692.0 L1099.5 692.0 L1102.6 692.0 L1105.6 692.0 L1108.6 692.0 L1111.6 692.0 L1114.6 692.0 L1117.6 692.0 L1120.6 692.0 L1123.6 692.0 L1126.6 692.0 L1129.6 692.0 L1132.6 692.0 L1135.6 692.0 L1138.6 692.0 L1141.6 692.0 L1144.6 692.0 L1147.6 692.0 L1150.6 692.0 L1153.6 692.0 L1156.6 692.0 L1159.6 692.0 L1162.6 692.0 L1165.6 692.0 L1168.6 692.0 L1171.6 692.0 L1174.6 692.0 L1177.6 692.0 L1180.6 692.0 L1183.6 692.0 L1186.6 692.0 L1189.6 692.0 L1192.6 692.0 L1195.6 692.0 L1198.7 692.0 L1201.7 692.0 L1204.7 692.0 L1207.7 692.0 L1210.7 692.0 L1213.7 692.0 L1216.7 692.0 L1219.7 692.0 L1222.7 692.0 L1225.7 692.0 L1228.7 692.0 L1231.7 692.0 L1234.7 692.0 L1237.7 692.0 L1240.7 692.0 L1243.7 692.0 L1246.7 692.0 L1249.7 692.0 L1252.7 692.0 L1255.7 692.0 L1258.7 692.0 L1261.7 692.0 L1264.7 692.0 L1267.7 692.0 L1270.7 692.0 L1273.7 692.0 L1276.7 692.0 L1279.7 692.0 L1282.7 692.0 L1285.7 692.0 L1288.7 692.0 L1291.7 692.0 L1294.7 692.0 L1297.8 692.0 L1300.8 692.0 L1303.8 692.0 L1306.8 692.0 L1309.8 692.0 L1312.8 692.0 L1315.8 692.0 L1318.8 692.0 L1321.8 692.0 L1324.8 692.0 L1327.8 692.0 L1330.8 692.0 L1333.8 692.0 L1336.8 692.0 L1339.8 692.0 L1342.8 692.0 L1345.8 692.0 L1348.8 692.0 L1351.8 692.0 L1354.8 692.0 L1357.8 692.0 L1360.8 692.0 L1363.8 692.0 L1366.8 692.0 L1369.8 692.0 L1372.8 692.0 L1375.8 692.0 L1378.8 692.0 L1381.8 692.0 L1384.8 692.0 L1387.8 692.0 L1390.8 692.0 L1393.8 692.0 L1396.9 692.0 L1399.9 692.0 L1402.9 692.0 L1405.9 692.0 L1408.9 692.0 L1411.9 692.0 L1414.9 692.0 L1417.9 692.0 L1420.9 692.0 L1423.9 692.0 L1426.9 692.0 L1429.9 692.0 L1432.9 692.0 L1435.9 692.0 L1438.9 692.0 L1441.9 692.0 L1444.9 692.0 L1447.9 692.0 L1450.9 692.0 L1453.9 692.0 L1456.9 692.0 L1459.9 692.0 L1462.9 692.0 L1465.9 692.0 L1468.9 692.0 L1471.9 692.0 L1474.9 692.0 L1477.9 692.0 L1480.9 692.0 L1483.9 692.0 L1486.9 692.0 L1489.9 692.0 L1493.0 692.0 L1496.0 692.0 L1499.0 692.0 L1502.0 692.0 L1505.0 692.0 L1508.0 692.0 L1511.0 692.0 L1514.0 692.0 L1517.0 692.0 L1520.0 692.0 L1523.0 692.0 L1526.0 692.0 L1529.0 692.0 L1532.0 692.0 L1535.0 692.0 L1538.0 692.0 L1541.0 692.0" stroke="#CD0BBC"/>
<path d="M296.8 808.5 L299.8 808.3 L302.8 808.0 L305.8 807.8 L308.9 807.6 L311.9 807.3 L314.9 807.1 L317.9 806.9 L320.9 806.6 L323.9 806.4 L326.9 806.2 L330.0 805.9 L333.0 805.7 L336.0 805.4 L339.0 805.2 L342.0 805.0 L345.0 804.7 L348.0 804.5 L351.1 804.2 L354.1 804.0 L357.1 803.7 L360.1 803.5 L363.1 803.2 L366.1 803.0 L369.1 802.7 L372.2 802.4 L375.2 802.2 L378.2 801.9 L381.2 801.6 L384.2 801.4 L387.2 801.1 L390.2 800.8 L393.3 800.6 L396.3 800.3 L399.3 800.0 L402.3 799.7 L405.3 799.4 L408.3 799.1 L411.3 798.9 L414.4 798.6 L417.4 798.3 L420.4 798.0 L423.4 797.7 L426.4 797.4 L429.4 797.1 L432.4 796.7 L435.5 796.4 L438.5 796.1 L441.5 795.8 L444.5 795.5 L447.5 795.2 L450.5 794.8 L453.5 794.5 L456.6 794.2 L459.6 793.8 L462.6 793.5 L465.6 793.1 L468.6 792.8 L471.6 792.4 L474.6 792.1 L477.7 791.7 L480.7 791.3 L483.7 791.0 L486.7 790.6 L489.7 790.2 L492.7 789.8 L495.7 789.5 L498.8 789.1 L501.8 788.7 L504.8 788.3 L507.8 787.9 L510.8 787.5 L513.8 787.1 L516.8 786.6 L519.9 786.2 L522.9 785.8 L525.9 785.4 L528.9 784.9 L531.9 784.5 L534.9 784.1 L537.9 783.6 L541.0 783.2 L544.0 782.7 L547.0 782.2 L550.0 781.8 L553.0 781.3 L556.0 780.8 L559.0 780.3 L562.1 779.8 L565.1 779.3 L568.1 778.8 L571.1 778.3 L574.1 777.8 L577.1 777.3 L580.1 776.8 L583.2 776.3 L586.2 775.7 L589.2 775.2 L592.2 774.6 L595.2 774.1 L598.2 773.5 L601.2 773.0 L604.2 772.4 L607.3 771.8 L610.3 771.2 L613.3 770.6 L616.3 770.1 L619.3 769.5 L622.3 768.8 L625.3 768.2 L628.4 767.6 L631.4 767.0 L634.4 766.4 L637.4 765.7 L640.4 765.1 L643.4 764.4 L646.4 763.7 L649.5 763.1 L652.5 762.4 L655.5 761.7 L658.5 761.0 L661.5 760.3 L664.5 759.6 L667.5 758.9 L670.6 758.2 L673.6 757.5 L676.6 756.8 L679.6 756.0 L682.6 755.3 L685.6 754.5 L688.6 753.7 L691.7 753.0 L694.7 752.2 L697.7 751.4 L700.7 750.6 L703.7 749.8 L706.7 749.0 L709.7 748.2 L712.8 747.4 L715.8 746.5 L718.8 745.7 L721.8 744.8 L724.8 744.0 L727.8 743.1 L730.8 742.2 L733.9 741.4 L736.9 740.5 L739.9 739.6 L742.9 738.7 L745.9 737.7 L748.9 736.8 L751.9 735.9 L755.0 734.9 L758.0 734.0 L761.0 733.0 L764.0 732.1 L767.0 731.1 L770.0 730.1 L773.0 729.1 L776.1 728.1 L779.1 727.1 L782.1 726.0 L785.1 725.0 L788.1 724.0 L791.1 722.9 L794.1 721.8 L797.2 720.8 L800.2 719.7 L803.2 718.6 L806.2 717.5 L809.2 716.4 L812.2 715.3 L815.2 714.1 L818.3 713.0 L821.3 711.8 L824.3 710.7 L827.3 709.5 L830.3 708.3 L833.3 707.1 L836.3 705.9 L839.4 704.7 L842.4 703.5 L845.4 702.3 L848.4 701.0 L851.4 699.8 L854.4 698.5 L857.4 697.2 L860.5 695.9 L863.5 694.6 L866.5 693.3 L869.5 692.0 L872.5 692.0 L875.5 692.0 L878.5 692.0 L881.5 692.0 L884.6 692.0 L887.6 692.0 L890.6 692.0 L893.6 692.0 L896.6 692.0 L899.6 692.0 L902.6 692.0 L905.6 692.0 L908.6 692.0 L911.7 692.0 L914.7 692.0 L917.7 692.0 L920.7 692.0 L923.7 692.0 L926.7 692.0 L929.7 692.0 L932.7 692.0 L935.7 692.0 L938.8 692.0 L941.8 692.0 L944.8 692.0 L947.8 692.0 L950.8 692.0 L953.8 692.0 L956.8 692.0 L959.8 692.0 L962.8 692.0 L965.9 692.0 L968.9 692.0 L971.9 692.0 L974.9 692.0 L977.9 692.0 L980.9 692.0 L983.9 692.0 L986.9 692.0 L989.9 692.0 L993.0 692.0 L996.0 692.0 L999.0 692.0 L1002.0 692.0 L1005.0 692.0 L1008.0 692.0 L1011.0 692.0 L1014.0 692.0 L1017.0 692.0 L1020.1 692.0 L1023.1 692.0 L1026.1 692.0 L1029.1 692.0 L1032.1 692.0 L1035.1 692.0 L1038.1 692.0 L1041.1 692.0 L1044.2 692.0 L1047.2 692.0 L1050.2 692.0 L1053.2 692.0 L1056.2 692.0 L1059.2 692.0 L1062.2 692.0 L1065.2 692.0 L1068.2 692.0 L1071.3 692.0 L1074.3 692.0 L1077.3 692.0 L1080.3 692.0 L1083.3 692.0 L1086.3 692.0 L1089.3 692.0 L1092.3 692.0 L1095.3 692.0 L1098.4 692.0 L1101.4 692.0 L1104.4 692.0 L1107.4 692.0 L1110.4 692.0 L1113.4 692.0 L1116.4 692.0 L1119.4 692.0 L1122.4 692.0 L1125.5 692.0 L1128.5 692.0 L1131.5 692.0 L1134.5 692.0 L1137.5 692.0 L1140.5 692.0 L1143.5 692.0 L1146.5 692.0 L1149.5 692.0 L1152.6 692.0 L1155.6 692.0 L1158.6 692.0 L1161.6 692.0 L1164.6 692.0 L1167.6 692.0 L1170.6 692.0 L1173.6 692.0 L1176.6 692.0 L1179.7 692.0 L1182.7 692.0 L1185.7 692.0 L1188.7 692.0 L1191.7 692.0 L1194.7 692.0 L1197.7 692.0 L1200.7 692.0 L1203.7 692.0 L1206.8 692.0 L1209.8 692.0 L1212.8 692.0 L1215.8 692.0 L1218.8 692.0 L1221.8 692.0 L1224.8 692.0 L1227.8 692.0 L1230.8 692.0 L1233.9 692.0 L1236.9 692.0 L1239.9 692.0 L1242.9 692.0 L1245.9 692.0 L1248.9 692.0 L1251.9 692.0 L1254.9 692.0 L1257.9 692.0 L1261.0 692.0 L1264.0 692.0 L1267.0 692.0 L1270.0 692.0 L1273.0 692.0 L1276.0 692.0 L1279.0 692.0 L1282.0 692.0 L1285.0 692.0 L1288.1 692.0 L1291.1 692.0 L1294.1 692.0 L1297.1 692.0 L1300.1 692.0 L1303.1 692.0 L1306.1 692.0 L1309.1 692.0 L1312.1 692.0 L1315.2 692.0 L1318.2 692.0 L1321.2 692.0 L1324.2 692.0 L1327.2 692.0 L1330.2 692.0 L1333.2 692.0 L1336.2 692.0 L1339.2 692.0 L1342.3 692.0 L1345.3 692.0 L1348.3 692.0 L1351.3 692.0 L1354.3 692.0 L1357.3 692.0 L1360.3 692.0 L1363.3 692.0 L1366.3 692.0 L1369.4 692.0 L1372.4 692.0 L1375.4 692.0 L1378.4 692.0 L1381.4 692.0 L1384.4 692.0 L1387.4 692.0 L1390.4 692.0 L1393.5 692.0 L1396.5 692.0 L1399.5 692.0 L1402.5 692.0 L1405.5 692.0 L1408.5 692.0 L1411.5 692.0 L1414.5 692.0 L1417.5 692.0 L1420.6 692.0 L1423.6 692.0 L1426.6 692.0 L1429.6 692.0 L1432.6 692.0 L1435.6 692.0 L1438.6 692.0 L1441.6 692.0 L1444.6 692.0 L1447.7 692.0 L1450.7 692.0 L1453.7 692.0 L1456.7 692.0 L1459.7 692.0 L1462.7 692.0 L1465.7 692.0 L1468.7 692.0 L1471.7 692.0 L1474.8 692.0 L1477.8 692.0 L1480.8 692.0 L1483.8 692.0 L1486.8 692.0 L1489.8 692.0 L1492.8 692.0 L1495.8 692.0 L1498.8 692.0 L1501.9 692.0 L1504.9 692.0 L1507.9 692.0 L1510.9 692.0 L1513.9 692.0 L1516.9 692.0 L1519.9 692.0 L1522.9 692.0 L1525.9 692.0 L1529.0 692.0 L1532.0 692.0 L1535.0 692.0 L1538.0 692.0 L1541.0 692.0" stroke="#000000"/>
<path d="M296.8 876.8 L299.8 876.4 L302.8 876.0 L305.8 875.6 L308.8 875.3 L311.8 874.9 L314.8 874.5 L317.8 874.1 L320.8 873.7 L323.8 873.3 L326.8 872.9 L329.8 872.6 L332.8 872.2 L335.8 871.8 L338.8 871.4 L341.8 871.0 L344.8 870.6 L347.8 870.2 L350.8 869.8 L353.8 869.4 L356.8 869.0 L359.9 868.6 L362.9 868.2 L365.9 867.8 L368.9 867.4 L371.9 867.0 L374.9 866.6 L377.9 866.2 L380.9 865.8 L383.9 865.4 L386.9 865.0 L389.9 864.6 L392.9 864.2 L395.9 863.7 L398.9 863.3 L401.9 862.9 L404.9 862.5 L407.9 862.0 L410.9 861.6 L413.9 861.2 L416.9 860.7 L419.9 860.3 L422.9 859.9 L425.9 859.4 L428.9 859.0 L431.9 858.5 L434.9 858.0 L437.9 857.6 L440.9 857.1 L443.9 856.7 L446.9 856.2 L449.9 855.7 L452.9 855.2 L455.9 854.7 L458.9 854.3 L461.9 853.8 L464.9 853.3 L467.9 852.8 L470.9 852.3 L473.9 851.8 L476.9 851.2 L480.0 850.7 L483.0 850.2 L486.0 849.7 L489.0 849.1 L492.0 848.6 L495.0 848.1 L498.0 847.5 L501.0 847.0 L504.0 846.4 L507.0 845.8 L510.0 845.3 L513.0 844.7 L516.0 844.1 L519.0 843.5 L522.0 842.9 L525.0 842.3 L528.0 841.7 L531.0 841.1 L534.0 840.5 L537.0 839.9 L540.0 839.2 L543.0 838.6 L546.0 838.0 L549.0 837.3 L552.0 836.6 L555.0 836.0 L558.0 835.3 L561.0 834.6 L564.0 834.0 L567.0 833.3 L570.0 832.6 L573.0 831.9 L576.0 831.1 L579.0 830.4 L582.0 829.7 L585.0 829.0 L588.0 828.2 L591.0 827.5 L594.0 826.7 L597.0 825.9 L600.1 825.2 L603.1 824.4 L606.1 823.6 L609.1 822.8 L612.1 822.0 L615.1 821.2 L618.1 820.3 L621.1 819.5 L624.1 818.7 L627.1 817.8 L630.1 816.9 L633.1 816.1 L636.1 815.2 L639.1 814.3 L642.1 813.4 L645.1 812.5 L648.1 811.6 L651.1 810.7 L654.1 809.7 L657.1 808.8 L660.1 807.8 L663.1 806.9 L666.1 805.9 L669.1 804.9 L672.1 803.9 L675.1 802.9 L678.1 801.9 L681.1 800.9 L684.1 799.8 L687.1 798.8 L690.1 797.7 L693.1 796.7 L696.1 795.6 L699.1 794.5 L702.1 793.4 L705.1 792.3 L708.1 791.2 L711.1 790.0 L714.1 788.9 L717.1 787.7 L720.2 786.6 L723.2 785.4 L726.2 784.2 L729.2 783.0 L732.2 781.8 L735.2 780.6 L738.2 779.3 L741.2 778.1 L744.2 776.8 L747.2 775.5 L750.2 774.3 L753.2 773.0 L756.2 771.7 L759.2 770.3 L762.2 769.0 L765.2 767.6 L768.2 766.3 L771.2 764.9 L774.2 763.5 L777.2 762.1 L780.2 760.7 L783.2 759.3 L786.2 757.8 L789.2 756.4 L792.2 754.9 L795.2 753.4 L798.2 751.9 L801.2 750.4 L804.2 748.8 L807.2 747.3 L810.2 745.7 L813.2 744.2 L816.2 742.6 L819.2 741.0 L822.2 739.3 L825.2 737.7 L828.2 736.1 L831.2 734.4 L834.2 732.7 L837.2 731.0 L840.3 729.3 L843.3 727.6 L846.3 725.8 L849.3 724.1 L852.3 722.3 L855.3 720.5 L858.3 718.7 L861.3 716.9 L864.3 715.1 L867.3 713.3 L870.3 711.4 L873.3 709.5 L876.3 707.6 L879.3 705.7 L882.3 703.8 L885.3 701.9 L888.3 699.9 L891.3 698.0 L894.3 696.0 L897.3 694.0 L900.3 692.0 L903.3 692.0 L906.3 692.0 L909.3 692.0 L912.3 692.0 L915.3 692.0 L918.3 692.0 L921.4 692.0 L924.4 692.0 L927.4 692.0 L930.4 692.0 L933.4 692.0 L936.4 692.0 L939.4 692.0 L942.4 692.0 L945.4 692.0 L948.4 692.0 L951.4 692.0 L954.4 692.0 L957.5 692.0 L960.5 692.0 L963.5 692.0 L966.5 692.0 L969.5 692.0 L972.5 692.0 L975.5 692.0 L978.5 692.0 L981.5 692.0 L984.5 692.0 L987.5 692.0 L990.5 692.0 L993.5 692.0 L996.6 692.0 L999.6 692.0 L1002.6 692.0 L1005.6 692.0 L1008.6 692.0 L1011.6 692.0 L1014.6 692.0 L1017.6 692.0 L1020.6 692.0 L1023.6 692.0 L1026.6 692.0 L1029.6 692.0 L1032.7 692.0 L1035.7 692.0 L1038.7 692.0 L1041.7 692.0 L1044.7 692.0 L1047.7 692.0 L1050.7 692.0 L1053.7 692.0 L1056.7 692.0 L1059.7 692.0 L1062.7 692.0 L1065.7 692.0 L1068.7 692.0 L1071.8 692.0 L1074.8 692.0 L1077.8 692.0 L1080.8 692.0 L1083.8 692.0 L1086.8 692.0 L1089.8 692.0 L1092.8 692.0 L1095.8 692.0 L1098.8 692.0 L1101.8 692.0 L1104.8 692.0 L1107.9 692.0 L1110.9 692.0 L1113.9 692.0 L1116.9 692.0 L1119.9 692.0 L1122.9 692.0 L1125.9 692.0 L1128.9 692.0 L1131.9 692.0 L1134.9 692.0 L1137.9 692.0 L1140.9 692.0 L1143.9 692.0 L1147.0 692.0 L1150.0 692.0 L1153.0 692.0 L1156.0 692.0 L1159.0 692.0 L1162.0 692.0 L1165.0 692.0 L1168.0 692.0 L1171.0 692.0 L1174.0 692.0 L1177.0 692.0 L1180.0 692.0 L1183.1 692.0 L1186.1 692.0 L1189.1 692.0 L1192.1 692.0 L1195.1 692.0 L1198.1 692.0 L1201.1 692.0 L1204.1 692.0 L1207.1 692.0 L1210.1 692.0 L1213.1 692.0 L1216.1 692.0 L1219.1 692.0 L1222.2 692.0 L1225.2 692.0 L1228.2 692.0 L1231.2 692.0 L1234.2 692.0 L1237.2 692.0 L1240.2 692.0 L1243.2 692.0 L1246.2 692.0 L1249.2 692.0 L1252.2 692.0 L1255.2 692.0 L1258.2 692.0 L1261.3 692.0 L1264.3 692.0 L1267.3 692.0 L1270.3 692.0 L1273.3 692.0 L1276.3 692.0 L1279.3 692.0 L1282.3 692.0 L1285.3 692.0 L1288.3 692.0 L1291.3 692.0 L1294.3 692.0 L1297.4 692.0 L1300.4 692.0 L1303.4 692.0 L1306.4 692.0 L1309.4 692.0 L1312.4 692.0 L1315.4 692.0 L1318.4 692.0 L1321.4 692.0 L1324.4 692.0 L1327.4 692.0 L1330.4 692.0 L1333.4 692.0 L1336.5 692.0 L1339.5 692.0 L1342.5 692.0 L1345.5 692.0 L1348.5 692.0 L1351.5 692.0 L1354.5 692.0 L1357.5 692.0 L1360.5 692.0 L1363.5 692.0 L1366.5 692.0 L1369.5 692.0 L1372.6 692.0 L1375.6 692.0 L1378.6 692.0 L1381.6 692.0 L1384.6 692.0 L1387.6 692.0 L1390.6 692.0 L1393.6 692.0 L1396.6 692.0 L1399.6 692.0 L1402.6 692.0 L1405.6 692.0 L1408.6 692.0 L1411.7 692.0 L1414.7 692.0 L1417.7 692.0 L1420.7 692.0 L1423.7 692.0 L1426.7 692.0 L1429.7 692.0 L1432.7 692.0 L1435.7 692.0 L1438.7 692.0 L1441.7 692.0 L1444.7 692.0 L1447.8 692.0 L1450.8 692.0 L1453.8 692.0 L1456.8 692.0 L1459.8 692.0 L1462.8 692.0 L1465.8 692.0 L1468.8 692.0 L1471.8 692.0 L1474.8 692.0 L1477.8 692.0 L1480.8 692.0 L1483.8 692.0 L1486.9 692.0 L1489.9 692.0 L1492.9 692.0 L1495.9 692.0 L1498.9 692.0 L1501.9 692.0 L1504.9 692.0 L1507.9 692.0 L1510.9 692.0 L1513.9 692.0 L1516.9 692.0 L1519.9 692.0 L1523.0 692.0 L1526.0 692.0 L1529.0 692.0 L1532.0 692.0 L1535.0 692.0 L1538.0 692.0 L1541.0 692.0" stroke="#28E2E5"/>
<path d="M296.8 904.3 L299.8 904.1 L302.8 903.9 L305.8 903.7 L308.8 903.6 L311.8 903.4 L314.8 903.2 L317.8 903.0 L320.8 902.8 L323.8 902.6 L326.8 902.4 L329.8 902.2 L332.9 902.0 L335.9 901.8 L338.9 901.6 L341.9 901.4 L344.9 901.1 L347.9 900.9 L350.9 900.7 L353.9 900.5 L356.9 900.2 L359.9 900.0 L362.9 899.8 L365.9 899.5 L368.9 899.3 L371.9 899.0 L374.9 898.8 L377.9 898.5 L380.9 898.2 L383.9 898.0 L386.9 897.7 L389.9 897.4 L392.9 897.2 L395.9 896.9 L398.9 896.6 L402.0 896.3 L405.0 896.0 L408.0 895.8 L411.0 895.5 L414.0 895.2 L417.0 894.9 L420.0 894.6 L423.0 894.2 L426.0 893.9 L429.0 893.6 L432.0 893.3 L435.0 893.0 L438.0 892.7 L441.0 892.3 L444.0 892.0 L447.0 891.6 L450.0 891.3 L453.0 891.0 L456.0 890.6 L459.0 890.3 L462.0 889.9 L465.0 889.5 L468.0 889.2 L471.1 888.8 L474.1 888.4 L477.1 888.1 L480.1 887.7 L483.1 887.3 L486.1 886.9 L489.1 886.5 L492.1 886.1 L495.1 885.7 L498.1 885.3 L501.1 884.9 L504.1 884.5 L507.1 884.1 L510.1 883.7 L513.1 883.2 L516.1 882.8 L519.1 882.4 L522.1 882.0 L525.1 881.5 L528.1 881.1 L531.1 880.6 L534.1 880.2 L537.1 879.7 L540.2 879.3 L543.2 878.8 L546.2 878.3 L549.2 877.8 L552.2 877.4 L555.2 876.9 L558.2 876.4 L561.2 875.9 L564.2 875.4 L567.2 874.9 L570.2 874.4 L573.2 873.9 L576.2 873.4 L579.2 872.9 L582.2 872.4 L585.2 871.8 L588.2 871.3 L591.2 870.8 L594.2 870.2 L597.2 869.7 L600.2 869.2 L603.2 868.6 L606.2 868.0 L609.3 867.5 L612.3 866.9 L615.3 866.4 L618.3 865.8 L621.3 865.2 L624.3 864.6 L627.3 864.0 L630.3 863.4 L633.3 862.8 L636.3 862.2 L639.3 861.6 L642.3 861.0 L645.3 860.4 L648.3 859.8 L651.3 859.2 L654.3 858.5 L657.3 857.9 L660.3 857.3 L663.3 856.6 L666.3 856.0 L669.3 855.3 L672.3 854.7 L675.3 854.0 L678.4 853.3 L681.4 852.7 L684.4 852.0 L687.4 851.3 L690.4 850.6 L693.4 849.9 L696.4 849.2 L699.4 848.5 L702.4 847.8 L705.4 847.1 L708.4 846.4 L711.4 845.7 L714.4 845.0 L717.4 844.2 L720.4 843.5 L723.4 842.7 L726.4 842.0 L729.4 841.2 L732.4 840.5 L735.4 839.7 L738.4 839.0 L741.4 838.2 L744.4 837.4 L747.5 836.6 L750.5 835.8 L753.5 835.1 L756.5 834.3 L759.5 833.5 L762.5 832.6 L765.5 831.8 L768.5 831.0 L771.5 830.2 L774.5 829.4 L777.5 828.5 L780.5 827.7 L783.5 826.8 L786.5 826.0 L789.5 825.1 L792.5 824.3 L795.5 823.4 L798.5 822.5 L801.5 821.7 L804.5 820.8 L807.5 819.9 L810.5 819.0 L813.5 818.1 L816.6 817.2 L819.6 816.3 L822.6 815.4 L825.6 814.4 L828.6 813.5 L831.6 812.6 L834.6 811.6 L837.6 810.7 L840.6 809.8 L843.6 808.8 L846.6 807.8 L849.6 806.9 L852.6 805.9 L855.6 804.9 L858.6 803.9 L861.6 803.0 L864.6 802.0 L867.6 801.0 L870.6 800.0 L873.6 798.9 L876.6 797.9 L879.6 796.9 L882.6 795.9 L885.7 794.8 L888.7 793.8 L891.7 792.8 L894.7 791.7 L897.7 790.6 L900.7 789.6 L903.7 788.5 L906.7 787.4 L909.7 786.4 L912.7 785.3 L915.7 784.2 L918.7 783.1 L921.7 782.0 L924.7 780.9 L927.7 779.7 L930.7 778.6 L933.7 777.5 L936.7 776.4 L939.7 775.2 L942.7 774.1 L945.7 772.9 L948.7 771.7 L951.7 770.6 L954.8 769.4 L957.8 768.2 L960.8 767.0 L963.8 765.9 L966.8 764.7 L969.8 763.5 L972.8 762.2 L975.8 761.0 L978.8 759.8 L981.8 758.6 L984.8 757.3 L987.8 756.1 L990.8 754.9 L993.8 753.6 L996.8 752.3 L999.8 751.1 L1002.8 749.8 L1005.8 748.5 L1008.8 747.2 L1011.8 745.9 L1014.8 744.7 L1017.8 743.3 L1020.8 742.0 L1023.9 740.7 L1026.9 739.4 L1029.9 738.1 L1032.9 736.7 L1035.9 735.4 L1038.9 734.0 L1041.9 732.7 L1044.9 731.3 L1047.9 729.9 L1050.9 728.6 L1053.9 727.2 L1056.9 725.8 L1059.9 724.4 L1062.9 723.0 L1065.9 721.6 L1068.9 720.2 L1071.9 718.7 L1074.9 717.3 L1077.9 715.9 L1080.9 714.4 L1083.9 713.0 L1086.9 711.5 L1089.9 710.1 L1093.0 708.6 L1096.0 707.1 L1099.0 705.6 L1102.0 704.1 L1105.0 702.6 L1108.0 701.1 L1111.0 699.6 L1114.0 698.1 L1117.0 696.6 L1120.0 695.1 L1123.0 693.5 L1126.0 692.0 L1129.0 692.0 L1132.0 692.0 L1135.0 692.0 L1138.0 692.0 L1141.0 692.0 L1144.0 692.0 L1147.1 692.0 L1150.1 692.0 L1153.1 692.0 L1156.1 692.0 L1159.1 692.0 L1162.1 692.0 L1165.1 692.0 L1168.1 692.0 L1171.1 692.0 L1174.1 692.0 L1177.1 692.0 L1180.1 692.0 L1183.1 692.0 L1186.1 692.0 L1189.2 692.0 L1192.2 692.0 L1195.2 692.0 L1198.2 692.0 L1201.2 692.0 L1204.2 692.0 L1207.2 692.0 L1210.2 692.0 L1213.2 692.0 L1216.2 692.0 L1219.2 692.0 L1222.2 692.0 L1225.2 692.0 L1228.2 692.0 L1231.3 692.0 L1234.3 692.0 L1237.3 692.0 L1240.3 692.0 L1243.3 692.0 L1246.3 692.0 L1249.3 692.0 L1252.3 692.0 L1255.3 692.0 L1258.3 692.0 L1261.3 692.0 L1264.3 692.0 L1267.3 692.0 L1270.3 692.0 L1273.4 692.0 L1276.4 692.0 L1279.4 692.0 L1282.4 692.0 L1285.4 692.0 L1288.4 692.0 L1291.4 692.0 L1294.4 692.0 L1297.4 692.0 L1300.4 692.0 L1303.4 692.0 L1306.4 692.0 L1309.4 692.0 L1312.4 692.0 L1315.5 692.0 L1318.5 692.0 L1321.5 692.0 L1324.5 692.0 L1327.5 692.0 L1330.5 692.0 L1333.5 692.0 L1336.5 692.0 L1339.5 692.0 L1342.5 692.0 L1345.5 692.0 L1348.5 692.0 L1351.5 692.0 L1354.6 692.0 L1357.6 692.0 L1360.6 692.0 L1363.6 692.0 L1366.6 692.0 L1369.6 692.0 L1372.6 692.0 L1375.6 692.0 L1378.6 692.0 L1381.6 692.0 L1384.6 692.0 L1387.6 692.0 L1390.6 692.0 L1393.6 692.0 L1396.7 692.0 L1399.7 692.0 L1402.7 692.0 L1405.7 692.0 L1408.7 692.0 L1411.7 692.0 L1414.7 692.0 L1417.7 692.0 L1420.7 692.0 L1423.7 692.0 L1426.7 692.0 L1429.7 692.0 L1432.7 692.0 L1435.7 692.0 L1438.8 692.0 L1441.8 692.0 L1444.8 692.0 L1447.8 692.0 L1450.8 692.0 L1453.8 692.0 L1456.8 692.0 L1459.8 692.0 L1462.8 692.0 L1465.8 692.0 L1468.8 692.0 L1471.8 692.0 L1474.8 692.0 L1477.8 692.0 L1480.9 692.0 L1483.9 692.0 L1486.9 692.0 L1489.9 692.0 L1492.9 692.0 L1495.9 692.0 L1498.9 692.0 L1501.9 692.0 L1504.9 692.0 L1507.9 692.0 L1510.9 692.0 L1513.9 692.0 L1516.9 692.0 L1519.9 692.0 L1523.0 692.0 L1526.0 692.0 L1529.0 692.0 L1532.0 692.0 L1535.0 692.0 L1538.0 692.0 L1541.0 692.0" stroke="#DF536B"/>
<path d="M296.8 753.5 L299.8 753.4 L302.8 753.4 L305.8 753.3 L308.8 753.2 L311.8 753.1 L314.8 753.1 L317.9 753.0 L320.9 752.9 L323.9 752.8 L326.9 752.8 L329.9 752.7 L332.9 752.6 L335.9 752.5 L338.9 752.5 L341.9 752.4 L344.9 752.3 L347.9 752.3 L350.9 752.2 L353.9 752.1 L356.9 752.1 L359.9 752.0 L363.0 751.9 L366.0 751.8 L369.0 751.8 L372.0 751.7 L375.0 751.6 L378.0 751.6 L381.0 751.5 L384.0 751.4 L387.0 751.4 L390.0 751.3 L393.0 751.2 L396.0 751.2 L399.0 751.1 L402.1 751.0 L405.1 751.0 L408.1 750.9 L411.1 750.8 L414.1 750.8 L417.1 750.7 L420.1 750.6 L423.1 750.6 L426.1 750.5 L429.1 750.4 L432.1 750.4 L435.1 750.3 L438.1 750.3 L441.1 750.2 L444.1 750.1 L447.2 750.1 L450.2 750.0 L453.2 749.9 L456.2 749.9 L459.2 749.8 L462.2 749.7 L465.2 749.7 L468.2 749.6 L471.2 749.5 L474.2 749.5 L477.2 749.4 L480.2 749.3 L483.2 749.2 L486.2 749.2 L489.3 749.1 L492.3 749.0 L495.3 749.0 L498.3 748.9 L501.3 748.8 L504.3 748.8 L507.3 748.7 L510.3 748.6 L513.3 748.5 L516.3 748.5 L519.3 748.4 L522.3 748.3 L525.3 748.3 L528.4 748.2 L531.4 748.1 L534.4 748.0 L537.4 748.0 L540.4 747.9 L543.4 747.8 L546.4 747.7 L549.4 747.7 L552.4 747.6 L555.4 747.5 L558.4 747.4 L561.4 747.3 L564.4 747.3 L567.4 747.2 L570.5 747.1 L573.5 747.0 L576.5 746.9 L579.5 746.9 L582.5 746.8 L585.5 746.7 L588.5 746.6 L591.5 746.5 L594.5 746.4 L597.5 746.3 L600.5 746.3 L603.5 746.2 L606.5 746.1 L609.5 746.0 L612.5 745.9 L615.6 745.8 L618.6 745.7 L621.6 745.6 L624.6 745.5 L627.6 745.4 L630.6 745.3 L633.6 745.2 L636.6 745.1 L639.6 745.0 L642.6 744.9 L645.6 744.8 L648.6 744.7 L651.6 744.6 L654.7 744.5 L657.7 744.4 L660.7 744.3 L663.7 744.2 L666.7 744.1 L669.7 744.0 L672.7 743.9 L675.7 743.8 L678.7 743.7 L681.7 743.5 L684.7 743.4 L687.7 743.3 L690.7 743.2 L693.7 743.1 L696.8 743.0 L699.8 742.8 L702.8 742.7 L705.8 742.6 L708.8 742.5 L711.8 742.3 L714.8 742.2 L717.8 742.1 L720.8 742.0 L723.8 741.8 L726.8 741.7 L729.8 741.6 L732.8 741.4 L735.8 741.3 L738.9 741.2 L741.9 741.0 L744.9 740.9 L747.9 740.7 L750.9 740.6 L753.9 740.4 L756.9 740.3 L759.9 740.2 L762.9 740.0 L765.9 739.9 L768.9 739.7 L771.9 739.6 L774.9 739.4 L777.9 739.2 L781.0 739.1 L784.0 738.9 L787.0 738.8 L790.0 738.6 L793.0 738.4 L796.0 738.3 L799.0 738.1 L802.0 737.9 L805.0 737.8 L808.0 737.6 L811.0 737.4 L814.0 737.2 L817.0 737.1 L820.0 736.9 L823.0 736.7 L826.1 736.5 L829.1 736.3 L832.1 736.2 L835.1 736.0 L838.1 735.8 L841.1 735.6 L844.1 735.4 L847.1 735.2 L850.1 735.0 L853.1 734.8 L856.1 734.6 L859.1 734.4 L862.1 734.2 L865.2 734.0 L868.2 733.8 L871.2 733.6 L874.2 733.4 L877.2 733.2 L880.2 732.9 L883.2 732.7 L886.2 732.5 L889.2 732.3 L892.2 732.1 L895.2 731.8 L898.2 731.6 L901.2 731.4 L904.2 731.1 L907.2 730.9 L910.3 730.7 L913.3 730.4 L916.3 730.2 L919.3 729.9 L922.3 729.7 L925.3 729.4 L928.3 729.2 L931.3 728.9 L934.3 728.7 L937.3 728.4 L940.3 728.2 L943.3 727.9 L946.3 727.7 L949.3 727.4 L952.4 727.1 L955.4 726.9 L958.4 726.6 L961.4 726.3 L964.4 726.0 L967.4 725.8 L970.4 725.5 L973.4 725.2 L976.4 724.9 L979.4 724.6 L982.4 724.3 L985.4 724.0 L988.4 723.7 L991.5 723.4 L994.5 723.1 L997.5 722.8 L1000.5 722.5 L1003.5 722.2 L1006.5 721.9 L1009.5 721.6 L1012.5 721.3 L1015.5 721.0 L1018.5 720.6 L1021.5 720.3 L1024.5 720.0 L1027.5 719.7 L1030.5 719.3 L1033.5 719.0 L1036.6 718.7 L1039.6 718.3 L1042.6 718.0 L1045.6 717.6 L1048.6 717.3 L1051.6 716.9 L1054.6 716.6 L1057.6 716.2 L1060.6 715.9 L1063.6 715.5 L1066.6 715.1 L1069.6 714.8 L1072.6 714.4 L1075.7 714.0 L1078.7 713.7 L1081.7 713.3 L1084.7 712.9 L1087.7 712.5 L1090.7 712.1 L1093.7 711.7 L1096.7 711.3 L1099.7 710.9 L1102.7 710.6 L1105.7 710.1 L1108.7 709.7 L1111.7 709.3 L1114.7 708.9 L1117.8 708.5 L1120.8 708.1 L1123.8 707.7 L1126.8 707.3 L1129.8 706.8 L1132.8 706.4 L1135.8 706.0 L1138.8 705.5 L1141.8 705.1 L1144.8 704.7 L1147.8 704.2 L1150.8 703.8 L1153.8 703.3 L1156.8 702.9 L1159.8 702.4 L1162.9 701.9 L1165.9 701.5 L1168.9 701.0 L1171.9 700.5 L1174.9 700.1 L1177.9 699.6 L1180.9 699.1 L1183.9 698.6 L1186.9 698.1 L1189.9 697.7 L1192.9 697.2 L1195.9 696.7 L1198.9 696.2 L1202.0 695.7 L1205.0 695.2 L1208.0 694.6 L1211.0 694.1 L1214.0 693.6 L1217.0 693.1 L1220.0 692.6 L1223.0 692.0 L1226.0 692.0 L1229.0 692.0 L1232.0 692.0 L1235.0 692.0 L1238.0 692.0 L1241.0 692.0 L1244.0 692.0 L1247.0 692.0 L1250.0 692.0 L1253.0 692.0 L1256.0 692.0 L1259.0 692.0 L1262.0 692.0 L1265.0 692.0 L1268.0 692.0 L1271.0 692.0 L1274.0 692.0 L1277.0 692.0 L1280.0 692.0 L1283.0 692.0 L1286.0 692.0 L1289.0 692.0 L1292.0 692.0 L1295.0 692.0 L1298.0 692.0 L1301.0 692.0 L1304.0 692.0 L1307.0 692.0 L1310.0 692.0 L1313.0 692.0 L1316.0 692.0 L1319.0 692.0 L1322.0 692.0 L1325.0 692.0 L1328.0 692.0 L1331.0 692.0 L1334.0 692.0 L1337.0 692.0 L1340.0 692.0 L1343.0 692.0 L1346.0 692.0 L1349.0 692.0 L1352.0 692.0 L1355.0 692.0 L1358.0 692.0 L1361.0 692.0 L1364.0 692.0 L1367.0 692.0 L1370.0 692.0 L1373.0 692.0 L1376.0 692.0 L1379.0 692.0 L1382.0 692.0 L1385.0 692.0 L1388.0 692.0 L1391.0 692.0 L1394.0 692.0 L1397.0 692.0 L1400.0 692.0 L1403.0 692.0 L1406.0 692.0 L1409.0 692.0 L1412.0 692.0 L1415.0 692.0 L1418.0 692.0 L1421.0 692.0 L1424.0 692.0 L1427.0 692.0 L1430.0 692.0 L1433.0 692.0 L1436.0 692.0 L1439.0 692.0 L1442.0 692.0 L1445.0 692.0 L1448.0 692.0 L1451.0 692.0 L1454.0 692.0 L1457.0 692.0 L1460.0 692.0 L1463.0 692.0 L1466.0 692.0 L1469.0 692.0 L1472.0 692.0 L1475.0 692.0 L1478.0 692.0 L1481.0 692.0 L1484.0 692.0 L1487.0 692.0 L1490.0 692.0 L1493.0 692.0 L1496.0 692.0 L1499.0 692.0 L1502.0 692.0 L1505.0 692.0 L1508.0 692.0 L1511.0 692.0 L1514.0 692.0 L1517.0 692.0 L1520.0 692.0 L1523.0 692.0 L1526.0 692.0 L1529.0 692.0 L1532.0 692.0 L1535.0 692.0 L1538.0 692.0 L1541.0 692.0" stroke="#28E2E5"/>
<path d="M296.8 744.5 L299.8 744.5 L302.8 744.4 L305.8 744.4 L308.9 744.4 L311.9 744.4 L314.9 744.3 L317.9 744.3 L320.9 744.3 L323.9 744.3 L326.9 744.2 L330.0 744.2 L333.0 744.2 L336.0 744.2 L339.0 744.1 L342.0 744.1 L345.0 744.1 L348.0 744.1 L351.1 744.0 L354.1 744.0 L357.1 744.0 L360.1 744.0 L363.1 743.9 L366.1 743.9 L369.1 743.9 L372.1 743.9 L375.2 743.9 L378.2 743.8 L381.2 743.8 L384.2 743.8 L387.2 743.8 L390.2 743.7 L393.2 743.7 L396.3 743.7 L399.3 743.7 L402.3 743.7 L405.3 743.6 L408.3 743.6 L411.3 743.6 L414.3 743.6 L417.4 743.6 L420.4 743.6 L423.4 743.5 L426.4 743.5 L429.4 743.5 L432.4 743.5 L435.4 743.5 L438.5 743.5 L441.5 743.4 L444.5 743.4 L447.5 743.4 L450.5 743.4 L453.5 743.4 L456.5 743.4 L459.6 743.4 L462.6 743.3 L465.6 743.3 L468.6 743.3 L471.6 743.3 L474.6 743.3 L477.6 743.3 L480.7 743.3 L483.7 743.3 L486.7 743.3 L489.7 743.2 L492.7 743.2 L495.7 743.2 L498.7 743.2 L501.8 743.2 L504.8 743.2 L507.8 743.2 L510.8 743.2 L513.8 743.2 L516.8 743.2 L519.8 743.2 L522.9 743.2 L525.9 743.2 L528.9 743.2 L531.9 743.2 L534.9 743.1 L537.9 743.1 L540.9 743.1 L543.9 743.1 L547.0 743.1 L550.0 743.1 L553.0 743.1 L556.0 743.1 L559.0 743.1 L562.0 743.1 L565.0 743.1 L568.1 743.1 L571.1 743.1 L574.1 743.1 L577.1 743.1 L580.1 743.1 L583.1 743.1 L586.1 743.1 L589.2 743.1 L592.2 743.2 L595.2 743.2 L598.2 743.2 L601.2 743.2 L604.2 743.2 L607.2 743.2 L610.3 743.2 L613.3 743.2 L616.3 743.2 L619.3 743.2 L622.3 743.2 L625.3 743.2 L628.3 743.2 L631.4 743.2 L634.4 743.3 L637.4 743.3 L640.4 743.3 L643.4 743.3 L646.4 743.3 L649.4 743.3 L652.5 743.3 L655.5 743.3 L658.5 743.4 L661.5 743.4 L664.5 743.4 L667.5 743.4 L670.5 743.4 L673.5 743.4 L676.6 743.5 L679.6 743.5 L682.6 743.5 L685.6 743.5 L688.6 743.5 L691.6 743.6 L694.6 743.6 L697.7 743.6 L700.7 743.6 L703.7 743.6 L706.7 743.7 L709.7 743.7 L712.7 743.7 L715.7 743.7 L718.8 743.8 L721.8 743.8 L724.8 743.8 L727.8 743.8 L730.8 743.9 L733.8 743.9 L736.8 743.9 L739.9 744.0 L742.9 744.0 L745.9 744.0 L748.9 744.1 L751.9 744.1 L754.9 744.1 L757.9 744.2 L761.0 744.2 L764.0 744.2 L767.0 744.3 L770.0 744.3 L773.0 744.3 L776.0 744.4 L779.0 744.4 L782.1 744.4 L785.1 744.5 L788.1 744.5 L791.1 744.6 L794.1 744.6 L797.1 744.6 L800.1 744.7 L803.2 744.7 L806.2 744.8 L809.2 744.8 L812.2 744.8 L815.2 744.9 L818.2 744.9 L821.2 745.0 L824.2 745.0 L827.3 745.1 L830.3 745.1 L833.3 745.2 L836.3 745.2 L839.3 745.3 L842.3 745.3 L845.3 745.4 L848.4 745.4 L851.4 745.5 L854.4 745.5 L857.4 745.6 L860.4 745.6 L863.4 745.7 L866.4 745.7 L869.5 745.8 L872.5 745.9 L875.5 745.9 L878.5 746.0 L881.5 746.0 L884.5 746.1 L887.5 746.2 L890.6 746.2 L893.6 746.3 L896.6 746.3 L899.6 746.4 L902.6 746.1 L905.6 745.7 L908.7 745.3 L911.7 745.0 L914.7 744.6 L917.7 744.2 L920.8 743.9 L923.8 743.5 L926.8 743.1 L929.8 742.7 L932.9 742.3 L935.9 741.9 L938.9 741.5 L941.9 741.1 L945.0 740.7 L948.0 740.3 L951.0 739.9 L954.0 739.5 L957.1 739.0 L960.1 738.6 L963.1 738.2 L966.1 737.7 L969.2 737.3 L972.2 736.8 L975.2 736.4 L978.2 735.9 L981.3 735.5 L984.3 735.0 L987.3 734.6 L990.3 734.1 L993.4 733.6 L996.4 733.1 L999.4 732.7 L1002.4 732.2 L1005.4 731.7 L1008.5 731.2 L1011.5 730.7 L1014.5 730.2 L1017.5 729.7 L1020.6 729.2 L1023.6 728.7 L1026.6 728.1 L1029.6 727.6 L1032.7 727.1 L1035.7 726.6 L1038.7 726.0 L1041.7 725.5 L1044.8 725.0 L1047.8 724.4 L1050.8 723.9 L1053.8 723.3 L1056.9 722.7 L1059.9 722.2 L1062.9 721.6 L1065.9 721.0 L1069.0 720.5 L1072.0 719.9 L1075.0 719.3 L1078.0 718.7 L1081.1 718.1 L1084.1 717.5 L1087.1 716.9 L1090.1 716.3 L1093.2 715.7 L1096.2 715.1 L1099.2 714.5 L1102.2 713.9 L1105.2 713.3 L1108.3 712.6 L1111.3 712.0 L1114.3 711.4 L1117.3 710.7 L1120.4 710.1 L1123.4 709.5 L1126.4 708.8 L1129.4 708.2 L1132.5 707.5 L1135.5 706.8 L1138.5 706.2 L1141.5 705.5 L1144.6 704.8 L1147.6 704.1 L1150.6 703.5 L1153.6 702.8 L1156.7 702.1 L1159.7 701.4 L1162.7 700.7 L1165.7 700.0 L1168.8 699.3 L1171.8 698.6 L1174.8 697.9 L1177.8 697.1 L1180.9 696.4 L1183.9 695.7 L1186.9 695.0 L1189.9 694.2 L1193.0 693.5 L1196.0 692.8 L1199.0 692.0 L1202.0 692.0 L1205.0 692.0 L1208.0 692.0 L1211.0 692.0 L1214.0 692.0 L1217.0 692.0 L1220.0 692.0 L1223.0 692.0 L1226.0 692.0 L1229.0 692.0 L1232.0 692.0 L1235.0 692.0 L1238.0 692.0 L1241.0 692.0 L1244.0 692.0 L1247.0 692.0 L1250.0 692.0 L1253.0 692.0 L1256.0 692.0 L1259.0 692.0 L1262.0 692.0 L1265.0 692.0 L1268.0 692.0 L1271.0 692.0 L1274.0 692.0 L1277.0 692.0 L1280.0 692.0 L1283.0 692.0 L1286.0 692.0 L1289.0 692.0 L1292.0 692.0 L1295.0 692.0 L1298.0 692.0 L1301.0 692.0 L1304.0 692.0 L1307.0 692.0 L1310.0 692.0 L1313.0 692.0 L1316.0 692.0 L1319.0 692.0 L1322.0 692.0 L1325.0 692.0 L1328.0 692.0 L1331.0 692.0 L1334.0 692.0 L1337.0 692.0 L1340.0 692.0 L1343.0 692.0 L1346.0 692.0 L1349.0 692.0 L1352.0 692.0 L1355.0 692.0 L1358.0 692.0 L1361.0 692.0 L1364.0 692.0 L1367.0 692.0 L1370.0 692.0 L1373.0 692.0 L1376.0 692.0 L1379.0 692.0 L1382.0 692.0 L1385.0 692.0 L1388.0 692.0 L1391.0 692.0 L1394.0 692.0 L1397.0 692.0 L1400.0 692.0 L1403.0 692.0 L1406.0 692.0 L1409.0 692.0 L1412.0 692.0 L1415.0 692.0 L1418.0 692.0 L1421.0 692.0 L1424.0 692.0 L1427.0 692.0 L1430.0 692.0 L1433.0 692.0 L1436.0 692.0 L1439.0 692.0 L1442.0 692.0 L1445.0 692.0 L1448.0 692.0 L1451.0 692.0 L1454.0 692.0 L1457.0 692.0 L1460.0 692.0 L1463.0 692.0 L1466.0 692.0 L1469.0 692.0 L1472.0 692.0 L1475.0 692.0 L1478.0 692.0 L1481.0 692.0 L1484.0 692.0 L1487.0 692.0 L1490.0 692.0 L1493.0 692.0 L1496.0 692.0 L1499.0 692.0 L1502.0 692.0 L1505.0 692.0 L1508.0 692.0 L1511.0 692.0 L1514.0 692.0 L1517.0 692.0 L1520.0 692.0 L1523.0 692.0 L1526.0 692.0 L1529.0 692.0 L1532.0 692.0 L1535.0 692.0 L1538.0 692.0 L1541.0 692.0" stroke="#CD0BBC"/>
<path d="M296.8 933.8 L299.8 933.7 L302.8 933.6 L305.8 933.5 L308.9 933.4 L311.9 933.3 L314.9 933.2 L317.9 933.1 L320.9 933.0 L323.9 932.8 L326.9 932.7 L330.0 932.6 L333.0 932.5 L336.0 932.4 L339.0 932.2 L342.0 932.1 L345.0 931.9 L348.0 931.8 L351.1 931.7 L354.1 931.5 L357.1 931.4 L360.1 931.2 L363.1 931.1 L366.1 930.9 L369.1 930.8 L372.1 930.6 L375.2 930.4 L378.2 930.3 L381.2 930.1 L384.2 929.9 L387.2 929.7 L390.2 929.6 L393.2 929.4 L396.3 929.2 L399.3 929.0 L402.3 928.8 L405.3 928.6 L408.3 928.4 L411.3 928.3 L414.3 928.1 L417.4 927.9 L420.4 927.6 L423.4 927.4 L426.4 927.2 L429.4 927.0 L432.4 926.8 L435.4 926.6 L438.5 926.4 L441.5 926.1 L444.5 925.9 L447.5 925.7 L450.5 925.5 L453.5 925.2 L456.5 925.0 L459.6 924.8 L462.6 924.5 L465.6 924.3 L468.6 924.0 L471.6 923.8 L474.6 923.5 L477.6 923.3 L480.7 923.0 L483.7 922.8 L486.7 922.5 L489.7 922.2 L492.7 922.0 L495.7 921.7 L498.7 921.4 L501.8 921.2 L504.8 920.9 L507.8 920.6 L510.8 920.3 L513.8 920.1 L516.8 919.8 L519.8 919.5 L522.9 919.2 L525.9 918.9 L528.9 918.6 L531.9 918.3 L534.9 918.0 L537.9 917.7 L540.9 917.4 L543.9 917.1 L547.0 916.8 L550.0 916.5 L553.0 916.2 L556.0 915.9 L559.0 915.5 L562.0 915.2 L565.0 914.9 L568.1 914.6 L571.1 914.3 L574.1 913.9 L577.1 913.6 L580.1 913.3 L583.1 912.9 L586.1 912.6 L589.2 912.3 L592.2 911.9 L595.2 911.6 L598.2 911.2 L601.2 910.9 L604.2 910.5 L607.2 910.2 L610.3 909.8 L613.3 909.5 L616.3 909.1 L619.3 908.7 L622.3 908.4 L625.3 908.0 L628.3 907.6 L631.4 907.3 L634.4 906.9 L637.4 906.5 L640.4 906.1 L643.4 905.8 L646.4 905.4 L649.4 905.0 L652.5 904.6 L655.5 904.2 L658.5 903.8 L661.5 903.4 L664.5 903.1 L667.5 902.7 L670.5 902.3 L673.5 901.9 L676.6 901.5 L679.6 901.1 L682.6 900.7 L685.6 900.2 L688.6 899.8 L691.6 899.4 L694.6 899.0 L697.7 898.6 L700.7 898.2 L703.7 897.8 L706.7 897.3 L709.7 896.9 L712.7 896.5 L715.7 896.1 L718.8 895.6 L721.8 895.2 L724.8 894.8 L727.8 894.3 L730.8 893.9 L733.8 893.5 L736.8 893.0 L739.9 892.6 L742.9 892.1 L745.9 891.7 L748.9 891.2 L751.9 890.8 L754.9 890.3 L757.9 889.9 L761.0 889.4 L764.0 889.0 L767.0 888.5 L770.0 888.0 L773.0 887.6 L776.0 887.1 L779.0 886.6 L782.1 886.2 L785.1 885.7 L788.1 885.2 L791.1 884.8 L794.1 884.3 L797.1 883.8 L800.1 883.3 L803.2 882.9 L806.2 882.4 L809.2 881.9 L812.2 881.4 L815.2 880.9 L818.2 880.4 L821.2 879.9 L824.2 879.4 L827.3 878.9 L830.3 878.5 L833.3 878.0 L836.3 877.5 L839.3 877.0 L842.3 876.5 L845.3 875.9 L848.4 875.4 L851.4 874.9 L854.4 874.4 L857.4 873.9 L860.4 873.4 L863.4 872.9 L866.4 872.4 L869.5 871.9 L872.5 871.3 L875.5 870.8 L878.5 870.3 L881.5 869.8 L884.5 869.2 L887.5 868.7 L890.6 868.2 L893.6 867.7 L896.6 867.1 L899.6 866.6 L902.6 865.3 L905.6 864.0 L908.6 862.8 L911.6 861.5 L914.6 860.3 L917.6 859.0 L920.6 857.8 L923.6 856.6 L926.6 855.4 L929.6 854.2 L932.6 853.1 L935.6 851.9 L938.6 850.8 L941.6 849.6 L944.6 848.5 L947.7 847.4 L950.7 846.3 L953.7 845.2 L956.7 844.1 L959.7 843.0 L962.7 841.9 L965.7 840.8 L968.7 839.7 L971.7 838.7 L974.7 837.6 L977.7 836.6 L980.7 835.5 L983.7 834.5 L986.7 833.4 L989.7 832.4 L992.7 831.4 L995.7 830.3 L998.7 829.3 L1001.7 828.3 L1004.7 827.2 L1007.7 826.2 L1010.7 825.2 L1013.7 824.2 L1016.7 823.1 L1019.7 822.1 L1022.7 821.1 L1025.7 820.1 L1028.7 819.1 L1031.7 818.0 L1034.7 817.0 L1037.7 816.0 L1040.7 814.9 L1043.8 813.9 L1046.8 812.9 L1049.8 811.8 L1052.8 810.8 L1055.8 809.7 L1058.8 808.6 L1061.8 807.6 L1064.8 806.5 L1067.8 805.4 L1070.8 804.4 L1073.8 803.3 L1076.8 802.2 L1079.8 801.1 L1082.8 799.9 L1085.8 798.8 L1088.8 797.7 L1091.8 796.6 L1094.8 795.4 L1097.8 794.2 L1100.8 793.1 L1103.8 791.9 L1106.8 790.7 L1109.8 789.5 L1112.8 788.3 L1115.8 787.1 L1118.8 785.8 L1121.8 784.6 L1124.8 783.3 L1127.8 782.0 L1130.8 780.7 L1133.8 779.4 L1136.8 778.1 L1139.9 776.8 L1142.9 775.4 L1145.9 774.0 L1148.9 772.6 L1151.9 771.2 L1154.9 769.8 L1157.9 768.4 L1160.9 766.9 L1163.9 765.4 L1166.9 764.0 L1169.9 762.4 L1172.9 760.9 L1175.9 759.4 L1178.9 757.8 L1181.9 756.2 L1184.9 754.6 L1187.9 752.9 L1190.9 751.3 L1193.9 749.6 L1196.9 747.9 L1199.9 746.2 L1202.9 744.4 L1205.9 742.7 L1208.9 740.9 L1211.9 739.1 L1214.9 737.2 L1217.9 735.4 L1220.9 733.5 L1223.9 731.5 L1226.9 729.6 L1229.9 727.6 L1232.9 725.6 L1236.0 723.6 L1239.0 721.5 L1242.0 719.5 L1245.0 717.3 L1248.0 715.2 L1251.0 713.0 L1254.0 710.8 L1257.0 708.6 L1260.0 706.4 L1263.0 704.1 L1266.0 701.7 L1269.0 699.4 L1272.0 697.0 L1275.0 694.6 L1278.0 692.1 L1281.0 692.0 L1284.0 692.0 L1287.0 692.0 L1290.1 692.0 L1293.1 692.0 L1296.1 692.0 L1299.1 692.0 L1302.2 692.0 L1305.2 692.0 L1308.2 692.0 L1311.2 692.0 L1314.3 692.0 L1317.3 692.0 L1320.3 692.0 L1323.3 692.0 L1326.3 692.0 L1329.4 692.0 L1332.4 692.0 L1335.4 692.0 L1338.4 692.0 L1341.5 692.0 L1344.5 692.0 L1347.5 692.0 L1350.5 692.0 L1353.6 692.0 L1356.6 692.0 L1359.6 692.0 L1362.6 692.0 L1365.7 692.0 L1368.7 692.0 L1371.7 692.0 L1374.7 692.0 L1377.7 692.0 L1380.8 692.0 L1383.8 692.0 L1386.8 692.0 L1389.8 692.0 L1392.9 692.0 L1395.9 692.0 L1398.9 692.0 L1401.9 692.0 L1405.0 692.0 L1408.0 692.0 L1411.0 692.0 L1414.0 692.0 L1417.0 692.0 L1420.1 692.0 L1423.1 692.0 L1426.1 692.0 L1429.1 692.0 L1432.2 692.0 L1435.2 692.0 L1438.2 692.0 L1441.2 692.0 L1444.3 692.0 L1447.3 692.0 L1450.3 692.0 L1453.3 692.0 L1456.3 692.0 L1459.4 692.0 L1462.4 692.0 L1465.4 692.0 L1468.4 692.0 L1471.5 692.0 L1474.5 692.0 L1477.5 692.0 L1480.5 692.0 L1483.6 692.0 L1486.6 692.0 L1489.6 692.0 L1492.6 692.0 L1495.7 692.0 L1498.7 692.0 L1501.7 692.0 L1504.7 692.0 L1507.7 692.0 L1510.8 692.0 L1513.8 692.0 L1516.8 692.0 L1519.8 692.0 L1522.9 692.0 L1525.9 692.0 L1528.9 692.0 L1531.9 692.0 L1535.0 692.0 L1538.0 692.0 L1541.0 692.0" stroke="#2297E6"/>
<path d="M296.8 934.6 L299.8 934.5 L302.8 934.4 L305.8 934.2 L308.9 934.1 L311.9 934.0 L314.9 933.9 L317.9 933.8 L320.9 933.6 L323.9 933.5 L326.9 933.4 L330.0 933.2 L333.0 933.1 L336.0 932.9 L339.0 932.8 L342.0 932.7 L345.0 932.5 L348.0 932.4 L351.1 932.2 L354.1 932.0 L357.1 931.9 L360.1 931.7 L363.1 931.6 L366.1 931.4 L369.1 931.2 L372.1 931.1 L375.2 930.9 L378.2 930.7 L381.2 930.5 L384.2 930.3 L387.2 930.2 L390.2 930.0 L393.2 929.8 L396.3 929.6 L399.3 929.4 L402.3 929.2 L405.3 929.0 L408.3 928.8 L411.3 928.6 L414.3 928.4 L417.4 928.2 L420.4 928.0 L423.4 927.7 L426.4 927.5 L429.4 927.3 L432.4 927.1 L435.4 926.8 L438.5 926.6 L441.5 926.4 L444.5 926.1 L447.5 925.9 L450.5 925.7 L453.5 925.4 L456.5 925.2 L459.6 924.9 L462.6 924.7 L465.6 924.4 L468.6 924.1 L471.6 923.9 L474.6 923.6 L477.6 923.3 L480.7 923.1 L483.7 922.8 L486.7 922.5 L489.7 922.2 L492.7 921.9 L495.7 921.6 L498.7 921.4 L501.8 921.1 L504.8 920.8 L507.8 920.5 L510.8 920.2 L513.8 919.8 L516.8 919.5 L519.8 919.2 L522.9 918.9 L525.9 918.6 L528.9 918.3 L531.9 917.9 L534.9 917.6 L537.9 917.3 L540.9 916.9 L543.9 916.6 L547.0 916.2 L550.0 915.9 L553.0 915.5 L556.0 915.2 L559.0 914.8 L562.0 914.5 L565.0 914.1 L568.1 913.7 L571.1 913.3 L574.1 913.0 L577.1 912.6 L580.1 912.2 L583.1 911.8 L586.1 911.4 L589.2 911.0 L592.2 910.6 L595.2 910.2 L598.2 909.8 L601.2 909.4 L604.2 909.0 L607.2 908.6 L610.3 908.2 L613.3 907.7 L616.3 907.3 L619.3 906.9 L622.3 906.4 L625.3 906.0 L628.3 905.5 L631.4 905.1 L634.4 904.6 L637.4 904.2 L640.4 903.7 L643.4 903.3 L646.4 902.8 L649.4 902.3 L652.5 901.9 L655.5 901.4 L658.5 900.9 L661.5 900.4 L664.5 899.9 L667.5 899.4 L670.5 898.9 L673.5 898.4 L676.6 897.9 L679.6 897.4 L682.6 896.9 L685.6 896.4 L688.6 895.8 L691.6 895.3 L694.6 894.8 L697.7 894.2 L700.7 893.7 L703.7 893.2 L706.7 892.6 L709.7 892.1 L712.7 891.5 L715.7 890.9 L718.8 890.4 L721.8 889.8 L724.8 889.2 L727.8 888.6 L730.8 888.1 L733.8 887.5 L736.8 886.9 L739.9 886.3 L742.9 885.7 L745.9 885.1 L748.9 884.5 L751.9 883.9 L754.9 883.2 L757.9 882.6 L761.0 882.0 L764.0 881.3 L767.0 880.7 L770.0 880.1 L773.0 879.4 L776.0 878.8 L779.0 878.1 L782.1 877.5 L785.1 876.8 L788.1 876.1 L791.1 875.5 L794.1 874.8 L797.1 874.1 L800.1 873.4 L803.2 872.7 L806.2 872.0 L809.2 871.3 L812.2 870.6 L815.2 869.9 L818.2 869.2 L821.2 868.5 L824.2 867.7 L827.3 867.0 L830.3 866.3 L833.3 865.5 L836.3 864.8 L839.3 864.0 L842.3 863.3 L845.3 862.5 L848.4 861.8 L851.4 861.0 L854.4 860.2 L857.4 859.4 L860.4 858.6 L863.4 857.9 L866.4 857.1 L869.5 856.3 L872.5 855.5 L875.5 854.6 L878.5 853.8 L881.5 853.0 L884.5 852.2 L887.5 851.4 L890.6 850.5 L893.6 849.7 L896.6 848.8 L899.6 848.0 L902.6 847.6 L905.6 847.1 L908.7 846.6 L911.7 846.1 L914.7 845.6 L917.7 845.1 L920.8 844.6 L923.8 844.1 L926.8 843.5 L929.8 843.0 L932.9 842.4 L935.9 841.8 L938.9 841.2 L941.9 840.7 L945.0 840.1 L948.0 839.4 L951.0 838.8 L954.0 838.2 L957.1 837.5 L960.1 836.9 L963.1 836.2 L966.1 835.5 L969.1 834.8 L972.2 834.1 L975.2 833.4 L978.2 832.7 L981.2 831.9 L984.3 831.2 L987.3 830.4 L990.3 829.6 L993.3 828.8 L996.4 828.1 L999.4 827.2 L1002.4 826.4 L1005.4 825.6 L1008.5 824.7 L1011.5 823.9 L1014.5 823.0 L1017.5 822.1 L1020.6 821.2 L1023.6 820.3 L1026.6 819.4 L1029.6 818.5 L1032.6 817.5 L1035.7 816.6 L1038.7 815.6 L1041.7 814.6 L1044.7 813.6 L1047.8 812.6 L1050.8 811.6 L1053.8 810.6 L1056.8 809.5 L1059.9 808.5 L1062.9 807.4 L1065.9 806.3 L1068.9 805.2 L1072.0 804.1 L1075.0 803.0 L1078.0 801.8 L1081.0 800.7 L1084.1 799.5 L1087.1 798.3 L1090.1 797.1 L1093.1 795.9 L1096.1 794.7 L1099.2 793.5 L1102.2 792.2 L1105.2 791.0 L1108.2 789.7 L1111.3 788.4 L1114.3 787.1 L1117.3 785.8 L1120.3 784.4 L1123.4 783.1 L1126.4 781.7 L1129.4 780.4 L1132.4 779.0 L1135.5 777.6 L1138.5 776.1 L1141.5 774.7 L1144.5 773.3 L1147.6 771.8 L1150.6 770.3 L1153.6 768.8 L1156.6 767.3 L1159.6 765.8 L1162.7 764.3 L1165.7 762.7 L1168.7 761.1 L1171.7 759.6 L1174.8 758.0 L1177.8 756.4 L1180.8 754.7 L1183.8 753.1 L1186.9 751.4 L1189.9 749.7 L1192.9 748.1 L1195.9 746.4 L1199.0 744.6 L1202.0 742.9 L1205.0 741.1 L1208.0 739.4 L1211.1 737.6 L1214.1 735.8 L1217.1 734.0 L1220.1 732.1 L1223.1 730.3 L1226.2 728.4 L1229.2 726.5 L1232.2 724.6 L1235.2 722.7 L1238.3 720.8 L1241.3 718.9 L1244.3 716.9 L1247.3 714.9 L1250.4 712.9 L1253.4 710.9 L1256.4 708.9 L1259.4 706.8 L1262.5 704.8 L1265.5 702.7 L1268.5 700.6 L1271.5 698.5 L1274.6 696.3 L1277.6 694.2 L1280.6 692.0 L1283.6 692.0 L1286.7 692.0 L1289.7 692.0 L1292.7 692.0 L1295.7 692.0 L1298.8 692.0 L1301.8 692.0 L1304.8 692.0 L1307.9 692.0 L1310.9 692.0 L1313.9 692.0 L1316.9 692.0 L1320.0 692.0 L1323.0 692.0 L1326.0 692.0 L1329.0 692.0 L1332.1 692.0 L1335.1 692.0 L1338.1 692.0 L1341.2 692.0 L1344.2 692.0 L1347.2 692.0 L1350.2 692.0 L1353.3 692.0 L1356.3 692.0 L1359.3 692.0 L1362.4 692.0 L1365.4 692.0 L1368.4 692.0 L1371.4 692.0 L1374.5 692.0 L1377.5 692.0 L1380.5 692.0 L1383.5 692.0 L1386.6 692.0 L1389.6 692.0 L1392.6 692.0 L1395.7 692.0 L1398.7 692.0 L1401.7 692.0 L1404.7 692.0 L1407.8 692.0 L1410.8 692.0 L1413.8 692.0 L1416.9 692.0 L1419.9 692.0 L1422.9 692.0 L1425.9 692.0 L1429.0 692.0 L1432.0 692.0 L1435.0 692.0 L1438.1 692.0 L1441.1 692.0 L1444.1 692.0 L1447.1 692.0 L1450.2 692.0 L1453.2 692.0 L1456.2 692.0 L1459.2 692.0 L1462.3 692.0 L1465.3 692.0 L1468.3 692.0 L1471.4 692.0 L1474.4 692.0 L1477.4 692.0 L1480.4 692.0 L1483.5 692.0 L1486.5 692.0 L1489.5 692.0 L1492.6 692.0 L1495.6 692.0 L1498.6 692.0 L1501.6 692.0 L1504.7 692.0 L1507.7 692.0 L1510.7 692.0 L1513.7 692.0 L1516.8 692.0 L1519.8 692.0 L1522.8 692.0 L1525.9 692.0 L1528.9 692.0 L1531.9 692.0 L1534.9 692.0 L1538.0 692.0 L1541.0 692.0" stroke="#61D04F"/>
<path d="M295.6 601.9 L298.6 602.0 L301.6 602.0 L304.6 602.1 L307.6 602.1 L310.6 602.2 L313.6 602.3 L316.6 602.3 L319.6 602.4 L322.6 602.5 L325.6 602.6 L328.6 602.6 L331.6 602.7 L334.6 602.8 L337.6 602.9 L340.6 603.0 L343.6 603.0 L346.6 603.1 L349.6 603.2 L352.6 603.3 L355.6 603.4 L358.6 603.5 L361.6 603.6 L364.6 603.7 L367.6 603.8 L370.6 603.9 L373.6 604.0 L376.6 604.1 L379.6 604.2 L382.6 604.3 L385.6 604.4 L388.6 604.5 L391.6 604.6 L394.6 604.8 L397.6 604.9 L400.6 605.0 L403.6 605.1 L406.6 605.2 L409.6 605.4 L412.6 605.5 L415.6 605.6 L418.6 605.8 L421.6 605.9 L424.6 606.0 L427.6 606.2 L430.6 606.3 L433.6 606.4 L436.6 606.6 L439.6 606.7 L442.6 606.9 L445.6 607.0 L448.7 607.2 L451.7 607.3 L454.7 607.5 L457.7 607.6 L460.7 607.8 L463.7 608.0 L466.7 608.1 L469.7 608.3 L472.7 608.5 L475.7 608.6 L478.7 608.8 L481.7 609.0 L484.7 609.1 L487.7 609.3 L490.7 609.5 L493.7 609.7 L496.7 609.9 L499.7 610.1 L502.7 610.3 L505.7 610.4 L508.7 610.6 L511.7 610.8 L514.7 611.0 L517.7 611.2 L520.7 611.4 L523.7 611.6 L526.7 611.8 L529.7 612.1 L532.7 612.3 L535.7 612.5 L538.7 612.7 L541.7 612.9 L544.7 613.1 L547.7 613.4 L550.7 613.6 L553.7 613.8 L556.7 614.0 L559.7 614.3 L562.7 614.5 L565.7 614.7 L568.7 615.0 L571.7 615.2 L574.7 615.5 L577.7 615.7 L580.7 616.0 L583.7 616.2 L586.7 616.5 L589.7 616.7 L592.7 617.0 L595.7 617.2 L598.7 617.5 L601.7 617.8 L604.7 618.0 L607.7 618.3 L610.7 618.6 L613.7 618.8 L616.7 619.1 L619.7 619.4 L622.7 619.7 L625.7 620.0 L628.7 620.3 L631.7 620.6 L634.7 620.8 L637.7 621.1 L640.7 621.4 L643.7 621.7 L646.7 622.0 L649.7 622.3 L652.7 622.7 L655.7 623.0 L658.7 623.3 L661.7 623.6 L664.7 623.9 L667.7 624.2 L670.7 624.6 L673.7 624.9 L676.7 625.2 L679.7 625.5 L682.7 625.9 L685.7 626.2 L688.7 626.6 L691.7 626.9 L694.7 627.2 L697.7 627.6 L700.7 627.9 L703.7 628.3 L706.7 628.6 L709.7 629.0 L712.7 629.4 L715.7 629.7 L718.7 630.1 L721.7 630.5 L724.7 630.8 L727.7 631.2 L730.7 631.6 L733.7 632.0 L736.7 632.4 L739.7 632.7 L742.7 633.1 L745.7 633.5 L748.7 633.9 L751.8 634.3 L754.8 634.7 L757.8 635.1 L760.8 635.5 L763.8 635.9 L766.8 636.3 L769.8 636.8 L772.8 637.2 L775.8 637.6 L778.8 638.0 L781.8 638.5 L784.8 638.9 L787.8 639.3 L790.8 639.7 L793.8 640.2 L796.8 640.6 L799.8 641.1 L802.8 641.5 L805.8 642.0 L808.8 642.4 L811.8 642.9 L814.8 643.3 L817.8 643.8 L820.8 644.3 L823.8 644.7 L826.8 645.2 L829.8 645.7 L832.8 646.2 L835.8 646.6 L838.8 647.1 L841.8 647.6 L844.8 648.1 L847.8 648.6 L850.8 649.1 L853.8 649.6 L856.8 650.1 L859.8 650.6 L862.8 651.1 L865.8 651.6 L868.8 652.1 L871.8 652.6 L874.8 653.2 L877.8 653.7 L880.8 654.2 L883.8 654.7 L886.8 655.3 L889.8 655.8 L892.8 656.4 L895.8 656.9 L898.8 657.4 L901.8 658.0 L904.8 658.4 L907.8 658.8 L910.8 659.2 L913.9 659.6 L916.9 660.0 L919.9 660.4 L922.9 660.8 L925.9 661.2 L928.9 661.6 L932.0 662.0 L935.0 662.4 L938.0 662.8 L941.0 663.2 L944.0 663.6 L947.0 664.0 L950.1 664.4 L953.1 664.9 L956.1 665.3 L959.1 665.7 L962.1 666.1 L965.1 666.5 L968.2 667.0 L971.2 667.4 L974.2 667.8 L977.2 668.2 L980.2 668.7 L983.2 669.1 L986.3 669.5 L989.3 670.0 L992.3 670.4 L995.3 670.8 L998.3 671.3 L1001.3 671.7 L1004.4 672.1 L1007.4 672.6 L1010.4 673.0 L1013.4 673.4 L1016.4 673.9 L1019.4 674.3 L1022.4 674.8 L1025.5 675.2 L1028.5 675.7 L1031.5 676.1 L1034.5 676.5 L1037.5 677.0 L1040.5 677.5 L1043.6 677.9 L1046.6 678.4 L1049.6 678.8 L1052.6 679.3 L1055.6 679.8 L1058.6 680.3 L1061.7 680.8 L1064.7 681.2 L1067.7 681.7 L1070.7 682.2 L1073.7 682.7 L1076.7 683.2 L1079.8 683.8 L1082.8 684.3 L1085.8 684.8 L1088.8 685.3 L1091.8 685.9 L1094.8 686.4 L1097.9 686.9 L1100.9 687.5 L1103.9 688.0 L1106.9 688.6 L1109.9 689.1 L1112.9 689.7 L1116.0 690.3 L1119.0 690.8 L1122.0 691.4 L1125.0 692.0 L1128.0 692.0 L1131.0 692.0 L1134.0 692.0 L1137.1 692.0 L1140.1 692.0 L1143.1 692.0 L1146.1 692.0 L1149.1 692.0 L1152.1 692.0 L1155.1 692.0 L1158.2 692.0 L1161.2 692.0 L1164.2 692.0 L1167.2 692.0 L1170.2 692.0 L1173.2 692.0 L1176.2 692.0 L1179.3 692.0 L1182.3 692.0 L1185.3 692.0 L1188.3 692.0 L1191.3 692.0 L1194.3 692.0 L1197.3 692.0 L1200.4 692.0 L1203.4 692.0 L1206.4 692.0 L1209.4 692.0 L1212.4 692.0 L1215.4 692.0 L1218.4 692.0 L1221.5 692.0 L1224.5 692.0 L1227.5 692.0 L1230.5 692.0 L1233.5 692.0 L1236.5 692.0 L1239.6 692.0 L1242.6 692.0 L1245.6 692.0 L1248.6 692.0 L1251.6 692.0 L1254.6 692.0 L1257.6 692.0 L1260.7 692.0 L1263.7 692.0 L1266.7 692.0 L1269.7 692.0 L1272.7 692.0 L1275.7 692.0 L1278.7 692.0 L1281.8 692.0 L1284.8 692.0 L1287.8 692.0 L1290.8 692.0 L1293.8 692.0 L1296.8 692.0 L1299.8 692.0 L1302.9 692.0 L1305.9 692.0 L1308.9 692.0 L1311.9 692.0 L1314.9 692.0 L1317.9 692.0 L1320.9 692.0 L1324.0 692.0 L1327.0 692.0 L1330.0 692.0 L1333.0 692.0 L1336.0 692.0 L1339.0 692.0 L1342.0 692.0 L1345.1 692.0 L1348.1 692.0 L1351.1 692.0 L1354.1 692.0 L1357.1 692.0 L1360.1 692.0 L1363.1 692.0 L1366.2 692.0 L1369.2 692.0 L1372.2 692.0 L1375.2 692.0 L1378.2 692.0 L1381.2 692.0 L1384.2 692.0 L1387.3 692.0 L1390.3 692.0 L1393.3 692.0 L1396.3 692.0 L1399.3 692.0 L1402.3 692.0 L1405.3 692.0 L1408.4 692.0 L1411.4 692.0 L1414.4 692.0 L1417.4 692.0 L1420.4 692.0 L1423.4 692.0 L1426.4 692.0 L1429.5 692.0 L1432.5 692.0 L1435.5 692.0 L1438.5 692.0 L1441.5 692.0 L1444.5 692.0 L1447.6 692.0 L1450.6 692.0 L1453.6 692.0 L1456.6 692.0 L1459.6 692.0 L1462.6 692.0 L1465.6 692.0 L1468.7 692.0 L1471.7 692.0 L1474.7 692.0 L1477.7 692.0 L1480.7 692.0 L1483.7 692.0 L1486.7 692.0 L1489.8 692.0 L1492.8 692.0 L1495.8 692.0 L1498.8 692.0 L1501.8 692.0 L1504.8 692.0 L1507.8 692.0 L1510.9 692.0 L1513.9 692.0 L1516.9 692.0 L1519.9 692.0 L1522.9 692.0 L1525.9 692.0 L1528.9 692.0 L1532.0 692.0 L1535.0 692.0 L1538.0 692.0 L1541.0 692.0" stroke="#000000"/>
<path d="M296.3 318.0 L299.3 318.1 L302.3 318.3 L305.3 318.4 L308.3 318.6 L311.3 318.7 L314.3 318.8 L317.3 319.0 L320.3 319.1 L323.3 319.3 L326.3 319.4 L329.3 319.5 L332.3 319.7 L335.3 319.8 L338.3 320.0 L341.3 320.1 L344.3 320.3 L347.3 320.4 L350.3 320.6 L353.3 320.7 L356.3 320.9 L359.4 321.0 L362.4 321.2 L365.4 321.4 L368.4 321.5 L371.4 321.7 L374.4 321.8 L377.4 322.0 L380.4 322.1 L383.4 322.3 L386.4 322.5 L389.4 322.6 L392.4 322.8 L395.4 323.0 L398.4 323.1 L401.4 323.3 L404.4 323.5 L407.4 323.7 L410.4 323.8 L413.4 324.0 L416.4 324.2 L419.4 324.4 L422.4 324.5 L425.4 324.7 L428.4 324.9 L431.4 325.1 L434.4 325.3 L437.4 325.4 L440.4 325.6 L443.4 325.8 L446.4 326.0 L449.4 326.2 L452.4 326.4 L455.4 326.6 L458.4 326.8 L461.4 327.0 L464.4 327.2 L467.4 327.4 L470.4 327.6 L473.4 327.8 L476.4 328.0 L479.5 328.2 L482.5 328.4 L485.5 328.6 L488.5 328.8 L491.5 329.0 L494.5 329.2 L497.5 329.4 L500.5 329.6 L503.5 329.8 L506.5 330.1 L509.5 330.3 L512.5 330.5 L515.5 330.7 L518.5 330.9 L521.5 331.2 L524.5 331.4 L527.5 331.6 L530.5 331.8 L533.5 332.1 L536.5 332.3 L539.5 332.5 L542.5 332.8 L545.5 333.0 L548.5 333.3 L551.5 333.5 L554.5 333.7 L557.5 334.0 L560.5 334.2 L563.5 334.5 L566.5 334.7 L569.5 335.0 L572.5 335.2 L575.5 335.5 L578.5 335.7 L581.5 336.0 L584.5 336.3 L587.5 336.5 L590.5 336.8 L593.5 337.1 L596.5 337.3 L599.6 337.6 L602.6 337.9 L605.6 338.1 L608.6 338.4 L611.6 338.7 L614.6 339.0 L617.6 339.3 L620.6 339.5 L623.6 339.8 L626.6 340.1 L629.6 340.4 L632.6 340.7 L635.6 341.0 L638.6 341.3 L641.6 341.6 L644.6 341.9 L647.6 342.2 L650.6 342.5 L653.6 342.8 L656.6 343.1 L659.6 343.4 L662.6 343.7 L665.6 344.0 L668.6 344.4 L671.6 344.7 L674.6 345.0 L677.6 345.3 L680.6 345.6 L683.6 346.0 L686.6 346.3 L689.6 346.6 L692.6 347.0 L695.6 347.3 L698.6 347.6 L701.6 348.0 L704.6 348.3 L707.6 348.7 L710.6 349.0 L713.6 349.4 L716.6 349.7 L719.7 350.1 L722.7 350.4 L725.7 350.8 L728.7 351.1 L731.7 351.5 L734.7 351.9 L737.7 352.2 L740.7 352.6 L743.7 353.0 L746.7 353.3 L749.7 353.7 L752.7 354.1 L755.7 354.5 L758.7 354.9 L761.7 355.3 L764.7 355.7 L767.7 356.0 L770.7 356.4 L773.7 356.8 L776.7 357.2 L779.7 357.6 L782.7 358.0 L785.7 358.4 L788.7 358.9 L791.7 359.3 L794.7 359.7 L797.7 360.1 L800.7 360.5 L803.7 360.9 L806.7 361.4 L809.7 361.8 L812.7 362.2 L815.7 362.7 L818.7 363.1 L821.7 363.5 L824.7 364.0 L827.7 364.4 L830.7 364.9 L833.7 365.3 L836.7 365.8 L839.8 366.2 L842.8 366.7 L845.8 367.1 L848.8 367.6 L851.8 368.1 L854.8 368.6 L857.8 369.0 L860.8 369.5 L863.8 370.0 L866.8 370.5 L869.8 371.0 L872.8 371.5 L875.8 372.0 L878.8 372.5 L881.8 373.0 L884.8 373.5 L887.8 374.0 L890.8 374.6 L893.8 375.1 L896.8 375.6 L899.8 376.2 L902.8 376.7 L905.8 377.3 L908.8 377.9 L911.8 378.4 L914.8 379.0 L917.8 379.6 L920.8 380.2 L923.8 380.8 L926.8 381.4 L929.8 382.0 L932.8 382.6 L935.8 383.2 L938.8 383.9 L941.8 384.5 L944.8 385.1 L947.8 385.8 L950.8 386.5 L953.8 387.1 L956.8 387.8 L959.8 388.5 L962.9 389.2 L965.9 389.9 L968.9 390.6 L971.9 391.4 L974.9 392.1 L977.9 392.8 L980.9 393.6 L983.9 394.4 L986.9 395.1 L989.9 395.9 L992.9 396.7 L995.9 397.5 L998.9 398.3 L1001.9 399.2 L1004.9 400.0 L1007.9 400.9 L1010.9 401.7 L1013.9 402.6 L1016.9 403.5 L1019.9 404.4 L1022.9 405.3 L1025.9 406.2 L1028.9 407.1 L1031.9 408.1 L1034.9 409.0 L1037.9 410.0 L1040.9 410.9 L1043.9 411.9 L1046.9 412.9 L1049.9 414.0 L1052.9 415.0 L1055.9 416.0 L1058.9 417.1 L1061.9 418.2 L1064.9 419.2 L1067.9 420.3 L1070.9 421.4 L1073.9 422.6 L1076.9 423.7 L1079.9 424.9 L1083.0 426.1 L1086.0 427.2 L1089.0 428.5 L1092.0 429.7 L1095.0 430.9 L1098.0 432.2 L1101.0 433.5 L1104.0 434.8 L1107.0 436.1 L1110.0 437.4 L1113.0 438.8 L1116.0 440.1 L1119.0 441.5 L1122.0 442.9 L1125.0 444.4 L1128.0 445.8 L1131.0 447.3 L1134.0 448.8 L1137.0 450.2 L1140.0 451.8 L1143.0 453.3 L1146.0 454.8 L1149.0 456.4 L1152.0 457.9 L1155.0 459.5 L1158.0 461.1 L1161.0 462.7 L1164.0 464.2 L1167.0 465.8 L1170.0 467.4 L1173.0 469.0 L1176.0 470.6 L1179.0 472.2 L1182.0 473.9 L1185.0 475.5 L1188.0 477.1 L1191.0 478.7 L1194.0 480.2 L1197.0 481.8 L1200.0 483.4 L1203.1 485.0 L1206.1 486.6 L1209.1 488.1 L1212.1 489.7 L1215.1 491.2 L1218.1 492.7 L1221.1 494.2 L1224.1 495.7 L1227.1 497.2 L1230.1 498.7 L1233.1 500.2 L1236.1 501.6 L1239.1 503.1 L1242.1 504.5 L1245.1 505.9 L1248.1 507.4 L1251.1 508.8 L1254.1 510.2 L1257.1 511.6 L1260.1 513.0 L1263.1 514.4 L1266.1 515.8 L1269.1 517.1 L1272.1 518.5 L1275.1 519.9 L1278.1 521.2 L1281.1 522.6 L1284.1 524.0 L1287.1 525.3 L1290.1 526.7 L1293.1 528.0 L1296.1 529.4 L1299.1 530.7 L1302.1 532.1 L1305.1 533.4 L1308.1 534.7 L1311.1 536.1 L1314.1 537.4 L1317.1 538.8 L1320.1 540.2 L1323.2 541.5 L1326.2 542.9 L1329.2 544.2 L1332.2 545.6 L1335.2 547.0 L1338.2 548.3 L1341.2 549.7 L1344.2 551.1 L1347.2 552.5 L1350.2 553.9 L1353.2 555.3 L1356.2 556.7 L1359.2 558.1 L1362.2 559.5 L1365.2 561.0 L1368.2 562.4 L1371.2 563.9 L1374.2 565.3 L1377.2 566.8 L1380.2 568.3 L1383.2 569.8 L1386.2 571.3 L1389.2 572.8 L1392.2 574.3 L1395.2 575.8 L1398.2 577.4 L1401.2 579.0 L1404.2 580.5 L1407.2 582.1 L1410.2 583.7 L1413.2 585.4 L1416.2 587.0 L1419.2 588.6 L1422.2 590.3 L1425.2 592.0 L1428.2 593.7 L1431.2 595.4 L1434.2 597.2 L1437.2 598.9 L1440.2 600.7 L1443.3 602.5 L1446.3 604.3 L1449.3 606.1 L1452.3 608.0 L1455.3 609.9 L1458.3 611.8 L1461.3 613.7 L1464.3 615.6 L1467.3 617.6 L1470.3 619.6 L1473.3 621.6 L1476.3 623.6 L1479.3 625.7 L1482.3 627.8 L1485.3 629.9 L1488.3 632.0 L1491.3 634.2 L1494.3 636.4 L1497.3 638.6 L1500.3 640.8 L1503.3 643.1 L1506.4 647.2 L1509.6 651.2 L1512.7 655.3 L1515.9 659.4 L1519.0 663.5 L1522.2 667.6 L1525.3 671.6 L1528.4 675.7 L1531.6 679.8 L1534.7 683.9 L1537.9 687.9 L1541.0 692.0" stroke="#DF536B"/>
<path d="M296.3 263.9 L299.3 264.2 L302.3 264.5 L305.3 264.7 L308.3 265.0 L311.4 265.3 L314.4 265.6 L317.4 265.9 L320.4 266.2 L323.4 266.5 L326.4 266.8 L329.4 267.2 L332.4 267.5 L335.5 267.8 L338.5 268.1 L341.5 268.4 L344.5 268.8 L347.5 269.1 L350.5 269.4 L353.5 269.8 L356.5 270.1 L359.6 270.5 L362.6 270.8 L365.6 271.2 L368.6 271.5 L371.6 271.9 L374.6 272.3 L377.6 272.7 L380.6 273.0 L383.7 273.4 L386.7 273.8 L389.7 274.2 L392.7 274.6 L395.7 275.0 L398.7 275.4 L401.7 275.8 L404.7 276.2 L407.8 276.6 L410.8 277.0 L413.8 277.4 L416.8 277.9 L419.8 278.3 L422.8 278.7 L425.8 279.2 L428.8 279.6 L431.9 280.0 L434.9 280.5 L437.9 280.9 L440.9 281.4 L443.9 281.9 L446.9 282.3 L449.9 282.8 L452.9 283.3 L456.0 283.8 L459.0 284.3 L462.0 284.8 L465.0 285.2 L468.0 285.7 L471.0 286.3 L474.0 286.8 L477.0 287.3 L480.1 287.8 L483.1 288.3 L486.1 288.8 L489.1 289.4 L492.1 289.9 L495.1 290.5 L498.1 291.0 L501.1 291.6 L504.2 292.1 L507.2 292.7 L510.2 293.3 L513.2 293.8 L516.2 294.4 L519.2 295.0 L522.2 295.6 L525.2 296.2 L528.3 296.8 L531.3 297.4 L534.3 298.0 L537.3 298.6 L540.3 299.2 L543.3 299.8 L546.3 300.5 L549.3 301.1 L552.4 301.7 L555.4 302.4 L558.4 303.0 L561.4 303.7 L564.4 304.3 L567.4 305.0 L570.4 305.7 L573.4 306.4 L576.5 307.0 L579.5 307.7 L582.5 308.4 L585.5 309.1 L588.5 309.8 L591.5 310.5 L594.5 311.3 L597.5 312.0 L600.6 312.7 L603.6 313.4 L606.6 314.2 L609.6 314.9 L612.6 315.7 L615.6 316.4 L618.6 317.2 L621.6 318.0 L624.7 318.7 L627.7 319.5 L630.7 320.3 L633.7 321.1 L636.7 321.9 L639.7 322.7 L642.7 323.5 L645.7 324.3 L648.8 325.1 L651.8 326.0 L654.8 326.8 L657.8 327.7 L660.8 328.5 L663.8 329.3 L666.8 330.2 L669.8 331.1 L672.9 331.9 L675.9 332.8 L678.9 333.7 L681.9 334.6 L684.9 335.5 L687.9 336.4 L690.9 337.3 L693.9 338.2 L697.0 339.1 L700.0 340.1 L703.0 341.0 L706.0 341.9 L709.0 342.9 L712.0 343.9 L715.0 344.8 L718.0 345.8 L721.1 346.8 L724.1 347.7 L727.1 348.7 L730.1 349.7 L733.1 350.7 L736.1 351.7 L739.1 352.7 L742.1 353.8 L745.2 354.8 L748.2 355.8 L751.2 356.9 L754.2 357.9 L757.2 359.0 L760.2 360.0 L763.2 361.1 L766.2 362.2 L769.3 363.3 L772.3 364.4 L775.3 365.5 L778.3 366.6 L781.3 367.7 L784.3 368.8 L787.3 369.9 L790.3 371.1 L793.4 372.2 L796.4 373.4 L799.4 374.5 L802.4 375.7 L805.4 376.8 L808.4 378.0 L811.4 379.2 L814.4 380.4 L817.5 381.6 L820.5 382.8 L823.5 384.0 L826.5 385.2 L829.5 386.5 L832.5 387.7 L835.5 389.0 L838.5 390.2 L841.6 391.5 L844.6 392.7 L847.6 394.0 L850.6 395.3 L853.6 396.6 L856.6 397.9 L859.6 399.2 L862.6 400.5 L865.7 401.8 L868.7 403.2 L871.7 404.5 L874.7 405.8 L877.7 407.2 L880.7 408.6 L883.7 409.9 L886.7 411.3 L889.8 412.7 L892.8 414.1 L895.8 415.5 L898.8 416.9 L901.8 418.3 L904.8 419.2 L907.8 420.0 L910.8 420.9 L913.8 421.8 L916.8 422.6 L919.8 423.5 L922.8 424.3 L925.8 425.2 L928.8 426.0 L931.8 426.8 L934.8 427.7 L937.8 428.5 L940.8 429.3 L943.8 430.2 L946.8 431.0 L949.8 431.8 L952.8 432.6 L955.8 433.5 L958.8 434.3 L961.8 435.1 L964.8 435.9 L967.8 436.7 L970.8 437.5 L973.8 438.3 L976.8 439.1 L979.8 440.0 L982.8 440.8 L985.8 441.6 L988.8 442.4 L991.8 443.2 L994.8 444.0 L997.8 444.8 L1000.8 445.6 L1003.8 446.4 L1006.8 447.2 L1009.8 448.0 L1012.8 448.8 L1015.8 449.6 L1018.8 450.4 L1021.8 451.2 L1024.8 452.0 L1027.8 452.8 L1030.8 453.6 L1033.8 454.4 L1036.8 455.2 L1039.8 456.0 L1042.8 456.8 L1045.8 457.6 L1048.8 458.4 L1051.8 459.2 L1054.8 460.1 L1057.8 460.9 L1060.8 461.7 L1063.8 462.5 L1066.8 463.3 L1069.8 464.1 L1072.8 465.0 L1075.8 465.8 L1078.8 466.6 L1081.8 467.5 L1084.8 468.3 L1087.8 469.1 L1090.8 470.0 L1093.8 470.8 L1096.9 471.7 L1099.9 472.5 L1102.9 473.4 L1105.9 474.2 L1108.9 475.1 L1111.9 475.9 L1114.9 476.8 L1117.9 477.7 L1120.9 478.6 L1123.9 479.4 L1126.9 480.3 L1129.9 481.2 L1132.9 482.1 L1135.9 483.0 L1138.9 483.9 L1141.9 484.8 L1144.9 485.7 L1147.9 486.6 L1150.9 487.6 L1153.9 488.5 L1156.9 489.4 L1159.9 490.4 L1162.9 491.3 L1165.9 492.3 L1168.9 493.2 L1171.9 494.2 L1174.9 495.2 L1177.9 496.2 L1180.9 497.2 L1183.9 498.2 L1186.9 499.2 L1189.9 500.2 L1192.9 501.2 L1195.9 502.2 L1198.9 503.3 L1201.9 504.3 L1204.9 505.3 L1207.9 506.4 L1210.9 507.5 L1213.9 508.6 L1216.9 509.6 L1219.9 510.7 L1222.9 511.8 L1225.9 513.0 L1228.9 514.1 L1231.9 515.2 L1234.9 516.4 L1237.9 517.5 L1240.9 518.7 L1243.9 519.9 L1246.9 521.0 L1249.9 522.2 L1252.9 523.4 L1255.9 524.7 L1258.9 525.9 L1261.9 527.1 L1264.9 528.4 L1267.9 529.7 L1270.9 530.9 L1273.9 532.2 L1276.9 533.5 L1279.9 534.8 L1282.9 536.2 L1285.9 537.5 L1288.9 539.5 L1291.9 541.5 L1295.0 543.5 L1298.0 545.5 L1301.0 547.5 L1304.0 549.5 L1307.0 551.5 L1310.1 553.5 L1313.1 555.5 L1316.1 557.5 L1319.1 559.6 L1322.1 561.6 L1325.2 563.6 L1328.2 565.6 L1331.2 567.6 L1334.2 569.7 L1337.2 571.7 L1340.2 573.7 L1343.3 575.7 L1346.3 577.8 L1349.3 579.8 L1352.3 581.8 L1355.3 583.8 L1358.4 585.9 L1361.4 587.9 L1364.4 589.9 L1367.4 591.9 L1370.4 593.9 L1373.5 595.9 L1376.5 597.9 L1379.5 599.9 L1382.5 601.9 L1385.5 603.9 L1388.6 606.0 L1391.6 608.0 L1394.6 610.0 L1397.6 612.0 L1400.6 614.1 L1403.7 616.1 L1406.7 618.2 L1409.7 620.3 L1412.7 622.4 L1415.7 624.5 L1418.8 626.6 L1421.8 628.7 L1424.8 630.9 L1427.8 633.0 L1430.8 635.2 L1433.9 637.4 L1436.9 639.7 L1439.9 641.9 L1442.9 644.1 L1445.9 646.4 L1449.0 648.7 L1452.0 651.0 L1455.0 653.3 L1458.0 655.6 L1461.0 658.0 L1464.0 660.3 L1467.1 662.7 L1470.1 665.0 L1473.1 667.4 L1476.1 669.8 L1479.1 672.3 L1482.2 674.7 L1485.2 677.1 L1488.2 679.6 L1491.2 682.0 L1494.2 684.5 L1497.3 687.0 L1500.3 689.5 L1503.3 692.0 L1506.4 692.0 L1509.6 692.0 L1512.7 692.0 L1515.9 692.0 L1519.0 692.0 L1522.2 692.0 L1525.3 692.0 L1528.4 692.0 L1531.6 692.0 L1534.7 692.0 L1537.9 692.0 L1541.0 692.0" stroke="#61D04F"/>
<path d="M562 692.0 L870 692.0" stroke="#CD0BBC"/>
<path d="M870 692.0 L1129 692.0" stroke="#000000"/>
<path d="M1129 692.0 L1282 692.0" stroke="#DF536B"/>
<path d="M1282 692.0 L1541.0 692.0" stroke="#61D04F"/>
</g>
<g clip-path="url(#clipA)" font-size="27.5" fill="#2a2a2a" stroke="#2a2a2a" stroke-width="0.5">
<text x="268.3" y="270.3" text-anchor="end">9</text>
<text x="268.3" y="325.6" text-anchor="end">8</text>
<text x="268.3" y="607.8" text-anchor="end">1</text>
<text x="268.3" y="668.0" text-anchor="end">3</text>
<text x="268.3" y="668.5" text-anchor="end">1</text>
<text x="268.3" y="671.5" text-anchor="end">4</text>
<text x="268.3" y="688.0" text-anchor="end">2</text>
<text x="268.3" y="752.0" text-anchor="end">6</text>
<text x="268.3" y="760.5" text-anchor="end">5</text>
<text x="268.3" y="815.5" text-anchor="end">3</text>
<text x="268.3" y="884.0" text-anchor="end">1</text>
<text x="268.3" y="912.0" text-anchor="end">4</text>
<text x="268.3" y="941.0" text-anchor="end">6</text>
<text x="268.3" y="942.0" text-anchor="end">0</text>
</g>
<rect x="247.5" y="236.4" width="1344.9" height="726.2" fill="none" stroke="#1a1a1a" stroke-width="2.6"/>
<line x1="364.6" y1="962.6" x2="364.6" y2="993.6" stroke="#1a1a1a" stroke-width="2.6"/>
<text x="364.6" y="1071.8" font-size="51" text-anchor="middle">-6</text>
<line x1="619.3" y1="962.6" x2="619.3" y2="993.6" stroke="#1a1a1a" stroke-width="2.6"/>
<text x="619.3" y="1071.8" font-size="51" text-anchor="middle">-5</text>
<line x1="874.0" y1="962.6" x2="874.0" y2="993.6" stroke="#1a1a1a" stroke-width="2.6"/>
<text x="874.0" y="1071.8" font-size="51" text-anchor="middle">-4</text>
<line x1="1128.7" y1="962.6" x2="1128.7" y2="993.6" stroke="#1a1a1a" stroke-width="2.6"/>
<text x="1128.7" y="1071.8" font-size="51" text-anchor="middle">-3</text>
<line x1="1383.4" y1="962.6" x2="1383.4" y2="993.6" stroke="#1a1a1a" stroke-width="2.6"/>
<text x="1383.4" y="1071.8" font-size="51" text-anchor="middle">-2</text>
<line x1="364.6" y1="236.4" x2="364.6" y2="228.0" stroke="#1a1a1a" stroke-width="2.6"/>
<text x="364.6" y="165.5" font-size="51" text-anchor="middle">15</text>
<line x1="619.3" y1="236.4" x2="619.3" y2="228.0" stroke="#1a1a1a" stroke-width="2.6"/>
<text x="619.3" y="165.5" font-size="51" text-anchor="middle">13</text>
<line x1="874.0" y1="236.4" x2="874.0" y2="228.0" stroke="#1a1a1a" stroke-width="2.6"/>
<text x="874.0" y="165.5" font-size="51" text-anchor="middle">12</text>
<line x1="1128.7" y1="236.4" x2="1128.7" y2="228.0" stroke="#1a1a1a" stroke-width="2.6"/>
<text x="1128.7" y="165.5" font-size="51" text-anchor="middle">8</text>
<line x1="1383.4" y1="236.4" x2="1383.4" y2="228.0" stroke="#1a1a1a" stroke-width="2.6"/>
<text x="1383.4" y="165.5" font-size="51" text-anchor="middle">2</text>
<line x1="217.0" y1="335.4" x2="247.5" y2="335.4" stroke="#1a1a1a" stroke-width="2.6"/>
<text transform="translate(175.2 335.4) rotate(-90)" x="0" y="0" font-size="51" text-anchor="middle">4</text>
<line x1="217.0" y1="513.7" x2="247.5" y2="513.7" stroke="#1a1a1a" stroke-width="2.6"/>
<text transform="translate(175.2 513.7) rotate(-90)" x="0" y="0" font-size="51" text-anchor="middle">2</text>
<line x1="217.0" y1="692.0" x2="247.5" y2="692.0" stroke="#1a1a1a" stroke-width="2.6"/>
<text transform="translate(175.2 692.0) rotate(-90)" x="0" y="0" font-size="51" text-anchor="middle">0</text>
<line x1="217.0" y1="870.3" x2="247.5" y2="870.3" stroke="#1a1a1a" stroke-width="2.6"/>
<text transform="translate(175.2 870.3) rotate(-90)" x="0" y="0" font-size="51" text-anchor="middle">-2</text>
<text x="920" y="1191.4" font-size="50" text-anchor="middle">Log Lambda</text>
<text transform="translate(55.5 602.0) rotate(-90)" x="0" y="0" font-size="50.6" text-anchor="middle">Coefficients</text>
<text x="3" y="1323.3" font-size="55" font-weight="bold" fill="#000">b</text>
<g clip-path="url(#clipB)" stroke="#B4B4B4" stroke-width="2.2" fill="none">
<path d="M276.5 1959.5 L276.5 2124.0 M262.9 1959.5 L290.1 1959.5 M262.9 2124.0 L290.1 2124.0"/>
<path d="M293.5 1959.7 L293.5 2124.0 M279.9 1959.7 L307.1 1959.7 M279.9 2124.0 L307.1 2124.0"/>
<path d="M310.4 1959.9 L310.4 2124.0 M296.8 1959.9 L324.0 1959.9 M296.8 2124.0 L324.0 2124.0"/>
<path d="M327.4 1960.2 L327.4 2124.0 M313.8 1960.2 L341.0 1960.2 M313.8 2124.0 L341.0 2124.0"/>
<path d="M344.4 1960.5 L344.4 2124.0 M330.8 1960.5 L358.0 1960.5 M330.8 2124.0 L358.0 2124.0"/>
<path d="M361.3 1960.9 L361.3 2124.0 M347.7 1960.9 L374.9 1960.9 M347.7 2124.0 L374.9 2124.0"/>
<path d="M378.3 1961.3 L378.3 2124.0 M364.7 1961.3 L391.9 1961.3 M364.7 2124.0 L391.9 2124.0"/>
<path d="M395.2 1961.8 L395.2 2124.0 M381.6 1961.8 L408.8 1961.8 M381.6 2124.0 L408.8 2124.0"/>
<path d="M412.2 1962.2 L412.2 2124.0 M398.6 1962.2 L425.8 1962.2 M398.6 2124.0 L425.8 2124.0"/>
<path d="M429.2 1962.7 L429.2 2124.0 M415.6 1962.7 L442.8 1962.7 M415.6 2124.0 L442.8 2124.0"/>
<path d="M446.1 1963.2 L446.1 2124.0 M432.5 1963.2 L459.7 1963.2 M432.5 2124.0 L459.7 2124.0"/>
<path d="M463.1 1963.8 L463.1 2124.0 M449.5 1963.8 L476.7 1963.8 M449.5 2124.0 L476.7 2124.0"/>
<path d="M480.1 1964.5 L480.1 2124.0 M466.5 1964.5 L493.7 1964.5 M466.5 2124.0 L493.7 2124.0"/>
<path d="M497.0 1965.3 L497.0 2124.0 M483.4 1965.3 L510.6 1965.3 M483.4 2124.0 L510.6 2124.0"/>
<path d="M514.0 1966.1 L514.0 2124.0 M500.4 1966.1 L527.6 1966.1 M500.4 2124.0 L527.6 2124.0"/>
<path d="M530.9 1966.9 L530.9 2124.0 M517.3 1966.9 L544.5 1966.9 M517.3 2124.0 L544.5 2124.0"/>
<path d="M547.9 1967.8 L547.9 2124.0 M534.3 1967.8 L561.5 1967.8 M534.3 2124.0 L561.5 2124.0"/>
<path d="M564.9 1968.7 L564.9 2124.0 M551.3 1968.7 L578.5 1968.7 M551.3 2124.0 L578.5 2124.0"/>
<path d="M581.8 1969.6 L581.8 2124.0 M568.2 1969.6 L595.4 1969.6 M568.2 2124.0 L595.4 2124.0"/>
<path d="M598.8 1970.5 L598.8 2124.0 M585.2 1970.5 L612.4 1970.5 M585.2 2124.0 L612.4 2124.0"/>
<path d="M615.8 1971.6 L615.8 2124.0 M602.2 1971.6 L629.4 1971.6 M602.2 2124.0 L629.4 2124.0"/>
<path d="M632.7 1972.7 L632.7 2124.0 M619.1 1972.7 L646.3 1972.7 M619.1 2124.0 L646.3 2124.0"/>
<path d="M649.7 1973.9 L649.7 2124.0 M636.1 1973.9 L663.3 1973.9 M636.1 2124.0 L663.3 2124.0"/>
<path d="M666.6 1975.3 L666.6 2124.0 M653.0 1975.3 L680.2 1975.3 M653.0 2124.0 L680.2 2124.0"/>
<path d="M683.6 1976.8 L683.6 2124.0 M670.0 1976.8 L697.2 1976.8 M670.0 2124.0 L697.2 2124.0"/>
<path d="M700.6 1978.4 L700.6 2124.0 M687.0 1978.4 L714.2 1978.4 M687.0 2124.0 L714.2 2124.0"/>
<path d="M717.5 1980.2 L717.5 2124.1 M703.9 1980.2 L731.1 1980.2 M703.9 2124.1 L731.1 2124.1"/>
<path d="M734.5 1982.0 L734.5 2124.1 M720.9 1982.0 L748.1 1982.0 M720.9 2124.1 L748.1 2124.1"/>
<path d="M751.5 1983.8 L751.5 2124.1 M737.9 1983.8 L765.1 1983.8 M737.9 2124.1 L765.1 2124.1"/>
<path d="M768.4 1985.5 L768.4 2124.1 M754.8 1985.5 L782.0 1985.5 M754.8 2124.1 L782.0 2124.1"/>
<path d="M785.4 1987.4 L785.4 2124.1 M771.8 1987.4 L799.0 1987.4 M771.8 2124.1 L799.0 2124.1"/>
<path d="M802.4 1989.4 L802.4 2124.2 M788.8 1989.4 L816.0 1989.4 M788.8 2124.2 L816.0 2124.2"/>
<path d="M819.3 1991.5 L819.3 2124.2 M805.7 1991.5 L832.9 1991.5 M805.7 2124.2 L832.9 2124.2"/>
<path d="M836.3 1993.5 L836.3 2124.2 M822.7 1993.5 L849.9 1993.5 M822.7 2124.2 L849.9 2124.2"/>
<path d="M853.2 1995.7 L853.2 2124.2 M839.6 1995.7 L866.8 1995.7 M839.6 2124.2 L866.8 2124.2"/>
<path d="M870.2 1997.8 L870.2 2124.2 M856.6 1997.8 L883.8 1997.8 M856.6 2124.2 L883.8 2124.2"/>
<path d="M887.2 1999.3 L887.2 2124.2 M873.6 1999.3 L900.8 1999.3 M873.6 2124.2 L900.8 2124.2"/>
<path d="M904.1 2000.0 L904.1 2122.8 M890.5 2000.0 L917.7 2000.0 M890.5 2122.8 L917.7 2122.8"/>
<path d="M921.1 2000.4 L921.1 2121.5 M907.5 2000.4 L934.7 2000.4 M907.5 2121.5 L934.7 2121.5"/>
<path d="M938.1 2000.0 L938.1 2119.8 M924.5 2000.0 L951.7 2000.0 M924.5 2119.8 L951.7 2119.8"/>
<path d="M955.0 1998.8 L955.0 2117.2 M941.4 1998.8 L968.6 1998.8 M941.4 2117.2 L968.6 2117.2"/>
<path d="M972.0 1997.3 L972.0 2114.0 M958.4 1997.3 L985.6 1997.3 M958.4 2114.0 L985.6 2114.0"/>
<path d="M988.9 1995.5 L988.9 2109.5 M975.3 1995.5 L1002.5 1995.5 M975.3 2109.5 L1002.5 2109.5"/>
<path d="M1005.9 1993.0 L1005.9 2105.1 M992.3 1993.0 L1019.5 1993.0 M992.3 2105.1 L1019.5 2105.1"/>
<path d="M1022.9 1990.0 L1022.9 2099.6 M1009.3 1990.0 L1036.5 1990.0 M1009.3 2099.6 L1036.5 2099.6"/>
<path d="M1039.8 1986.2 L1039.8 2093.0 M1026.2 1986.2 L1053.4 1986.2 M1026.2 2093.0 L1053.4 2093.0"/>
<path d="M1056.8 1980.9 L1056.8 2085.7 M1043.2 1980.9 L1070.4 1980.9 M1043.2 2085.7 L1070.4 2085.7"/>
<path d="M1073.8 1974.1 L1073.8 2077.4 M1060.2 1974.1 L1087.4 1974.1 M1060.2 2077.4 L1087.4 2077.4"/>
<path d="M1090.7 1967.3 L1090.7 2068.6 M1077.1 1967.3 L1104.3 1967.3 M1077.1 2068.6 L1104.3 2068.6"/>
<path d="M1107.7 1961.0 L1107.7 2059.8 M1094.1 1961.0 L1121.3 1961.0 M1094.1 2059.8 L1121.3 2059.8"/>
<path d="M1124.7 1956.4 L1124.7 2052.2 M1111.1 1956.4 L1138.2 1956.4 M1111.1 2052.2 L1138.2 2052.2"/>
<path d="M1141.6 1953.9 L1141.6 2046.4 M1128.0 1953.9 L1155.2 1953.9 M1128.0 2046.4 L1155.2 2046.4"/>
<path d="M1158.6 1950.1 L1158.6 2040.9 M1145.0 1950.1 L1172.2 1950.1 M1145.0 2040.9 L1172.2 2040.9"/>
<path d="M1175.5 1945.1 L1175.5 2034.1 M1161.9 1945.1 L1189.1 1945.1 M1161.9 2034.1 L1189.1 2034.1"/>
<path d="M1192.5 1940.0 L1192.5 2027.0 M1178.9 1940.0 L1206.1 1940.0 M1178.9 2027.0 L1206.1 2027.0"/>
<path d="M1209.5 1935.0 L1209.5 2019.4 M1195.9 1935.0 L1223.1 1935.0 M1195.9 2019.4 L1223.1 2019.4"/>
<path d="M1226.4 1928.7 L1226.4 2011.4 M1212.8 1928.7 L1240.0 1928.7 M1212.8 2011.4 L1240.0 2011.4"/>
<path d="M1243.4 1922.6 L1243.4 2002.8 M1229.8 1922.6 L1257.0 1922.6 M1229.8 2002.8 L1257.0 2002.8"/>
<path d="M1260.4 1916.0 L1260.4 1993.7 M1246.8 1916.0 L1274.0 1916.0 M1246.8 1993.7 L1274.0 1993.7"/>
<path d="M1277.3 1908.4 L1277.3 1982.8 M1263.7 1908.4 L1290.9 1908.4 M1263.7 1982.8 L1290.9 1982.8"/>
<path d="M1294.3 1899.0 L1294.3 1970.8 M1280.7 1899.0 L1307.9 1899.0 M1280.7 1970.8 L1307.9 1970.8"/>
<path d="M1311.2 1888.2 L1311.2 1956.9 M1297.6 1888.2 L1324.8 1888.2 M1297.6 1956.9 L1324.8 1956.9"/>
<path d="M1328.2 1875.6 L1328.2 1941.2 M1314.6 1875.6 L1341.8 1875.6 M1314.6 1941.2 L1341.8 1941.2"/>
<path d="M1345.2 1861.1 L1345.2 1924.2 M1331.6 1861.1 L1358.8 1861.1 M1331.6 1924.2 L1358.8 1924.2"/>
<path d="M1362.1 1844.1 L1362.1 1905.0 M1348.5 1844.1 L1375.7 1844.1 M1348.5 1905.0 L1375.7 1905.0"/>
<path d="M1379.1 1825.9 L1379.1 1883.2 M1365.5 1825.9 L1392.7 1825.9 M1365.5 1883.2 L1392.7 1883.2"/>
<path d="M1396.1 1804.7 L1396.1 1858.9 M1382.5 1804.7 L1409.7 1804.7 M1382.5 1858.9 L1409.7 1858.9"/>
<path d="M1413.0 1781.8 L1413.0 1832.2 M1399.4 1781.8 L1426.6 1781.8 M1399.4 1832.2 L1426.6 1832.2"/>
<path d="M1430.0 1756.3 L1430.0 1803.2 M1416.4 1756.3 L1443.6 1756.3 M1416.4 1803.2 L1443.6 1803.2"/>
<path d="M1446.9 1726.1 L1446.9 1769.4 M1433.3 1726.1 L1460.5 1726.1 M1433.3 1769.4 L1460.5 1769.4"/>
<path d="M1463.9 1691.7 L1463.9 1731.8 M1450.3 1691.7 L1477.5 1691.7 M1450.3 1731.8 L1477.5 1731.8"/>
<path d="M1480.9 1658.6 L1480.9 1695.3 M1467.3 1658.6 L1494.5 1658.6 M1467.3 1695.3 L1494.5 1695.3"/>
<path d="M1497.8 1623.9 L1497.8 1657.1 M1484.2 1623.9 L1511.4 1623.9 M1484.2 1657.1 L1511.4 1657.1"/>
<path d="M1514.8 1581.4 L1514.8 1612.8 M1501.2 1581.4 L1528.4 1581.4 M1501.2 1612.8 L1528.4 1612.8"/>
<path d="M1531.8 1535.4 L1531.8 1567.3 M1518.2 1535.4 L1545.4 1535.4 M1518.2 1567.3 L1545.4 1567.3"/>
</g>
<g fill="#FF0000" clip-path="url(#clipB)">
<circle cx="276.5" cy="2042.0" r="8.3"/>
<circle cx="293.5" cy="2042.1" r="8.3"/>
<circle cx="310.4" cy="2042.2" r="8.3"/>
<circle cx="327.4" cy="2042.3" r="8.3"/>
<circle cx="344.4" cy="2042.5" r="8.3"/>
<circle cx="361.3" cy="2042.6" r="8.3"/>
<circle cx="378.3" cy="2042.8" r="8.3"/>
<circle cx="395.2" cy="2043.0" r="8.3"/>
<circle cx="412.2" cy="2043.2" r="8.3"/>
<circle cx="429.2" cy="2043.4" r="8.3"/>
<circle cx="446.1" cy="2043.7" r="8.3"/>
<circle cx="463.1" cy="2043.9" r="8.3"/>
<circle cx="480.1" cy="2044.2" r="8.3"/>
<circle cx="497.0" cy="2044.5" r="8.3"/>
<circle cx="514.0" cy="2044.8" r="8.3"/>
<circle cx="530.9" cy="2045.2" r="8.3"/>
<circle cx="547.9" cy="2045.6" r="8.3"/>
<circle cx="564.9" cy="2046.1" r="8.3"/>
<circle cx="581.8" cy="2046.5" r="8.3"/>
<circle cx="598.8" cy="2047.0" r="8.3"/>
<circle cx="615.8" cy="2047.5" r="8.3"/>
<circle cx="632.7" cy="2048.1" r="8.3"/>
<circle cx="649.7" cy="2048.8" r="8.3"/>
<circle cx="666.6" cy="2049.5" r="8.3"/>
<circle cx="683.6" cy="2050.2" r="8.3"/>
<circle cx="700.6" cy="2051.0" r="8.3"/>
<circle cx="717.5" cy="2051.9" r="8.3"/>
<circle cx="734.5" cy="2052.8" r="8.3"/>
<circle cx="751.5" cy="2053.9" r="8.3"/>
<circle cx="768.4" cy="2054.9" r="8.3"/>
<circle cx="785.4" cy="2056.0" r="8.3"/>
<circle cx="802.4" cy="2057.0" r="8.3"/>
<circle cx="819.3" cy="2058.0" r="8.3"/>
<circle cx="836.3" cy="2059.0" r="8.3"/>
<circle cx="853.2" cy="2059.9" r="8.3"/>
<circle cx="870.2" cy="2060.9" r="8.3"/>
<circle cx="887.2" cy="2061.5" r="8.3"/>
<circle cx="904.1" cy="2061.5" r="8.3"/>
<circle cx="921.1" cy="2060.5" r="8.3"/>
<circle cx="938.1" cy="2059.6" r="8.3"/>
<circle cx="955.0" cy="2058.0" r="8.3"/>
<circle cx="972.0" cy="2056.0" r="8.3"/>
<circle cx="988.9" cy="2053.0" r="8.3"/>
<circle cx="1005.9" cy="2049.2" r="8.3"/>
<circle cx="1022.9" cy="2044.6" r="8.3"/>
<circle cx="1039.8" cy="2039.6" r="8.3"/>
<circle cx="1056.8" cy="2033.3" r="8.3"/>
<circle cx="1073.8" cy="2025.9" r="8.3"/>
<circle cx="1090.7" cy="2018.3" r="8.3"/>
<circle cx="1107.7" cy="2010.8" r="8.3"/>
<circle cx="1124.7" cy="2004.6" r="8.3"/>
<circle cx="1141.6" cy="2000.0" r="8.3"/>
<circle cx="1158.6" cy="1995.2" r="8.3"/>
<circle cx="1175.5" cy="1989.2" r="8.3"/>
<circle cx="1192.5" cy="1982.9" r="8.3"/>
<circle cx="1209.5" cy="1976.6" r="8.3"/>
<circle cx="1226.4" cy="1970.3" r="8.3"/>
<circle cx="1243.4" cy="1963.1" r="8.3"/>
<circle cx="1260.4" cy="1955.0" r="8.3"/>
<circle cx="1277.3" cy="1945.5" r="8.3"/>
<circle cx="1294.3" cy="1934.9" r="8.3"/>
<circle cx="1311.2" cy="1922.3" r="8.3"/>
<circle cx="1328.2" cy="1907.8" r="8.3"/>
<circle cx="1345.2" cy="1892.7" r="8.3"/>
<circle cx="1362.1" cy="1875.0" r="8.3"/>
<circle cx="1379.1" cy="1854.6" r="8.3"/>
<circle cx="1396.1" cy="1831.5" r="8.3"/>
<circle cx="1413.0" cy="1807.0" r="8.3"/>
<circle cx="1430.0" cy="1779.4" r="8.3"/>
<circle cx="1446.9" cy="1747.1" r="8.3"/>
<circle cx="1463.9" cy="1711.6" r="8.3"/>
<circle cx="1480.9" cy="1676.6" r="8.3"/>
<circle cx="1497.8" cy="1640.5" r="8.3"/>
<circle cx="1514.8" cy="1597.1" r="8.3"/>
<circle cx="1531.8" cy="1551.2" r="8.3"/>
</g>
<line x1="887.3" y1="1512.1" x2="887.3" y2="2148.9" stroke="#000" stroke-width="2.2" stroke-dasharray="4 7.3"/>
<line x1="1142.1" y1="1512.1" x2="1142.1" y2="2148.9" stroke="#000" stroke-width="2.2" stroke-dasharray="4 7.3"/>
<rect x="226.5" y="1512.1" width="1355.3" height="636.8" fill="none" stroke="#1a1a1a" stroke-width="2.6"/>
<line x1="291.5" y1="2148.9" x2="291.5" y2="2176.4" stroke="#1a1a1a" stroke-width="2.6"/>
<text x="291.5" y="2247.0" font-size="45" text-anchor="middle">-8</text>
<line x1="473.8" y1="2148.9" x2="473.8" y2="2176.4" stroke="#1a1a1a" stroke-width="2.6"/>
<text x="473.8" y="2247.0" font-size="45" text-anchor="middle">-7</text>
<line x1="656.1" y1="2148.9" x2="656.1" y2="2176.4" stroke="#1a1a1a" stroke-width="2.6"/>
<text x="656.1" y="2247.0" font-size="45" text-anchor="middle">-6</text>
<line x1="838.4" y1="2148.9" x2="838.4" y2="2176.4" stroke="#1a1a1a" stroke-width="2.6"/>
<text x="838.4" y="2247.0" font-size="45" text-anchor="middle">-5</text>
<line x1="1020.7" y1="2148.9" x2="1020.7" y2="2176.4" stroke="#1a1a1a" stroke-width="2.6"/>
<text x="1020.7" y="2247.0" font-size="45" text-anchor="middle">-4</text>
<line x1="1202.9" y1="2148.9" x2="1202.9" y2="2176.4" stroke="#1a1a1a" stroke-width="2.6"/>
<text x="1202.9" y="2247.0" font-size="45" text-anchor="middle">-3</text>
<line x1="1385.2" y1="2148.9" x2="1385.2" y2="2176.4" stroke="#1a1a1a" stroke-width="2.6"/>
<text x="1385.2" y="2247.0" font-size="45" text-anchor="middle">-2</text>
<line x1="1567.5" y1="2148.9" x2="1567.5" y2="2176.4" stroke="#1a1a1a" stroke-width="2.6"/>
<text x="1567.5" y="2247.0" font-size="45" text-anchor="middle">-1</text>
<line x1="199.0" y1="2023.1" x2="226.5" y2="2023.1" stroke="#1a1a1a" stroke-width="2.6"/>
<text transform="translate(161.6 2023.1) rotate(-90)" x="0" y="0" font-size="45" text-anchor="middle">0.8</text>
<line x1="199.0" y1="1861.7" x2="226.5" y2="1861.7" stroke="#1a1a1a" stroke-width="2.6"/>
<text transform="translate(161.6 1861.7) rotate(-90)" x="0" y="0" font-size="45" text-anchor="middle">1.0</text>
<line x1="199.0" y1="1700.4" x2="226.5" y2="1700.4" stroke="#1a1a1a" stroke-width="2.6"/>
<text transform="translate(161.6 1700.4) rotate(-90)" x="0" y="0" font-size="45" text-anchor="middle">1.2</text>
<line x1="199.0" y1="1539.0" x2="226.5" y2="1539.0" stroke="#1a1a1a" stroke-width="2.6"/>
<text transform="translate(161.6 1539.0) rotate(-90)" x="0" y="0" font-size="45" text-anchor="middle">1.4</text>
<text x="276.5" y="1446.9" font-size="45" text-anchor="middle">15</text>
<text x="378.3" y="1446.9" font-size="45" text-anchor="middle">15</text>
<text x="480.1" y="1446.9" font-size="45" text-anchor="middle">15</text>
<text x="581.8" y="1446.9" font-size="45" text-anchor="middle">15</text>
<text x="683.6" y="1446.9" font-size="45" text-anchor="middle">15</text>
<text x="785.4" y="1446.9" font-size="45" text-anchor="middle">14</text>
<text x="887.2" y="1446.9" font-size="45" text-anchor="middle">12</text>
<text x="988.9" y="1446.9" font-size="45" text-anchor="middle">11</text>
<text x="1090.7" y="1446.9" font-size="45" text-anchor="middle">10</text>
<text x="1175.5" y="1446.9" font-size="45" text-anchor="middle">7</text>
<text x="1243.4" y="1446.9" font-size="45" text-anchor="middle">4</text>
<text x="1311.2" y="1446.9" font-size="45" text-anchor="middle">3</text>
<text x="1379.1" y="1446.9" font-size="45" text-anchor="middle">3</text>
<text x="1446.9" y="1446.9" font-size="45" text-anchor="middle">2</text>
<text x="1514.8" y="1446.9" font-size="45" text-anchor="middle">1</text>
<text x="833.6" y="2343.0" font-size="46">Log</text>
<text transform="translate(909.0 2343.3) scale(1.2 1.220)" font-size="46.0" style="font-family:"Liberation Serif", "Times New Roman", serif">(</text>
<text x="929.0" y="2343.0" font-size="47.0" style="font-family:"Liberation Serif", "Times New Roman", serif">&#955;</text>
<text transform="translate(957.0 2343.3) scale(1.2 1.220)" font-size="46.0" style="font-family:"Liberation Serif", "Times New Roman", serif">)</text>
<text transform="translate(54.0 1832.6) rotate(-90)" x="0" y="0" font-size="45.5" text-anchor="middle">Binomial Deviance</text>
</svg></body></html>
